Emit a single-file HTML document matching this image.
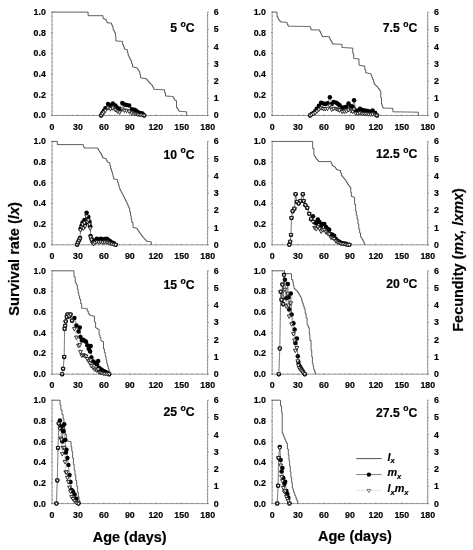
<!DOCTYPE html>
<html lang="en"><head><meta charset="utf-8"><title>Survival rate and fecundity</title>
<style>
html,body{margin:0;padding:0;background:#fff}
svg{display:block}
text{font-family:"Liberation Sans",sans-serif;font-weight:bold;fill:#000;stroke:#000;stroke-width:0.18px}
.tk text{font-size:8.8px}
.tl{font-size:12.2px}
.lg{font-size:10.8px;font-style:italic}
.ax{font-size:14.4px}
</style></head><body>
<svg width="473" height="550" viewBox="0 0 473 550">
<rect width="473" height="550" fill="#fff"/>
<g>
<path d="M52.00 12.10V115.50H207.65V12.10" fill="none" stroke="#858585" stroke-width="0.85"/>
<path d="M50.90 115.50h2.0M51.90 111.36h0.9M51.90 107.23h0.9M51.90 103.09h0.9M51.90 98.96h0.9M50.90 94.82h2.0M51.90 90.68h0.9M51.90 86.55h0.9M51.90 82.41h0.9M51.90 78.28h0.9M50.90 74.14h2.0M51.90 70.00h0.9M51.90 65.87h0.9M51.90 61.73h0.9M51.90 57.60h0.9M50.90 53.46h2.0M51.90 49.32h0.9M51.90 45.19h0.9M51.90 41.05h0.9M51.90 36.92h0.9M50.90 32.78h2.0M51.90 28.64h0.9M51.90 24.51h0.9M51.90 20.37h0.9M51.90 16.24h0.9M50.90 12.10h2.0M207.25 115.50h1.7M207.75 112.05h-0.9M207.75 108.61h-0.9M207.75 105.16h-0.9M207.75 101.71h-0.9M207.25 98.27h1.7M207.75 94.82h-0.9M207.75 91.37h-0.9M207.75 87.93h-0.9M207.75 84.48h-0.9M207.25 81.03h1.7M207.75 77.59h-0.9M207.75 74.14h-0.9M207.75 70.69h-0.9M207.75 67.25h-0.9M207.25 63.80h1.7M207.75 60.35h-0.9M207.75 56.91h-0.9M207.75 53.46h-0.9M207.75 50.01h-0.9M207.25 46.57h1.7M207.75 43.12h-0.9M207.75 39.67h-0.9M207.75 36.23h-0.9M207.75 32.78h-0.9M207.25 29.33h1.7M207.75 25.89h-0.9M207.75 22.44h-0.9M207.75 18.99h-0.9M207.75 15.55h-0.9M207.25 12.10h1.7M52.00 116.10v-1.8M57.19 115.60v-0.9M62.38 115.60v-0.9M67.56 115.60v-0.9M72.75 115.60v-0.9M77.94 116.10v-1.8M83.13 115.60v-0.9M88.32 115.60v-0.9M93.51 115.60v-0.9M98.70 115.60v-0.9M103.88 116.10v-1.8M109.07 115.60v-0.9M114.26 115.60v-0.9M119.45 115.60v-0.9M124.64 115.60v-0.9M129.82 116.10v-1.8M135.01 115.60v-0.9M140.20 115.60v-0.9M145.39 115.60v-0.9M150.58 115.60v-0.9M155.77 116.10v-1.8M160.95 115.60v-0.9M166.14 115.60v-0.9M171.33 115.60v-0.9M176.52 115.60v-0.9M181.71 116.10v-1.8M186.90 115.60v-0.9M192.09 115.60v-0.9M197.27 115.60v-0.9M202.46 115.60v-0.9M207.65 116.10v-1.8" fill="none" stroke="#666" stroke-width="0.6"/>
<g class="tk">
<text x="45.8" y="118.4" text-anchor="end">0.0</text>
<text x="45.8" y="97.7" text-anchor="end">0.2</text>
<text x="45.8" y="77.0" text-anchor="end">0.4</text>
<text x="45.8" y="56.4" text-anchor="end">0.6</text>
<text x="45.8" y="35.7" text-anchor="end">0.8</text>
<text x="45.8" y="15.0" text-anchor="end">1.0</text>
<text x="213.8" y="118.4">0</text>
<text x="213.8" y="101.2">1</text>
<text x="213.8" y="83.9">2</text>
<text x="213.8" y="66.7">3</text>
<text x="213.8" y="49.5">4</text>
<text x="213.8" y="32.2">5</text>
<text x="213.8" y="15.0">6</text>
<text x="52.0" y="129.7" text-anchor="middle">0</text>
<text x="77.9" y="129.7" text-anchor="middle">30</text>
<text x="103.9" y="129.7" text-anchor="middle">60</text>
<text x="129.8" y="129.7" text-anchor="middle">90</text>
<text x="155.8" y="129.7" text-anchor="middle">120</text>
<text x="181.7" y="129.7" text-anchor="middle">150</text>
<text x="207.7" y="129.7" text-anchor="middle">180</text>
</g>
<path d="M52.00 12.10H87.50V12.10H88.10V15.70H102.00V15.70H103.00V18.50H103.80V18.80H104.60V19.10H105.40V19.40H106.20V21.10H107.00V22.80H107.95V22.88H108.90V22.95H109.85V23.03H110.80V23.10H111.50V24.65H112.20V26.20H113.00V29.50H113.85V31.20H114.70V32.90H115.50V36.30H115.90V41.00H116.83V41.07H117.77V41.13H118.70V41.20H119.63V41.27H120.57V41.33H121.50V41.40H122.60V44.80H123.45V46.90H124.30V49.00H125.03V49.27H125.77V49.53H126.50V49.80H127.35V52.80H128.20V55.80H129.07V57.47H129.93V59.13H130.80V60.80H131.65V63.80H132.50V66.80H133.34V67.04H134.18V67.28H135.02V67.52H135.86V67.76H136.70V68.00H137.53V69.27H138.37V70.53H139.20V71.80H139.90V74.80H140.60V77.80H141.50V77.97H142.40V78.13H143.30V78.30H144.20V78.47H145.10V78.63H146.00V78.80H146.87V79.93H147.73V81.07H148.60V82.20H149.45V83.03H150.30V83.85H151.15V84.67H152.00V85.50H152.85V87.40H153.70V89.30H154.54V89.34H155.38V89.38H156.22V89.42H157.07V89.47H157.91V89.51H158.75V89.55H159.59V89.59H160.43V89.63H161.28V89.67H162.12V89.72H162.96V89.76H163.80V89.80H164.65V92.90H165.50V96.00H166.35V96.06H167.20V96.12H168.05V96.19H168.90V96.25H169.75V96.31H170.60V96.38H171.45V96.44H172.30V96.50H173.30V98.20H174.30V99.90H175.15V100.35H176.00V100.80H176.50V107.50H177.33V108.77H178.17V110.03H179.00V111.30H179.85V111.36H180.70V111.42H181.55V111.49H182.40V111.55H183.25V111.61H184.10V111.67H184.95V111.74H185.80V111.80H186.70V115.50" fill="none" stroke="#2a2a2a" stroke-width="0.75" stroke-linejoin="miter"/>
<polyline points="101.17,115.50 102.44,112.97 103.81,110.86 105.40,108.21 108.04,103.99 110.47,105.57 112.80,103.46 115.44,105.57 117.56,107.68 119.67,109.27 122.31,102.93 124.43,104.51 126.54,105.04 129.18,105.57 131.83,109.27 134.47,109.80 136.05,110.86 137.64,112.02 139.23,112.97 140.81,113.30 142.40,113.50 144.19,115.50" fill="none" stroke="#333" stroke-width="0.55"/>
<circle cx="101.17" cy="115.50" r="2.25" fill="#000"/>
<circle cx="102.44" cy="112.97" r="2.25" fill="#000"/>
<circle cx="103.81" cy="110.86" r="2.25" fill="#000"/>
<circle cx="105.40" cy="108.21" r="2.25" fill="#000"/>
<circle cx="108.04" cy="103.99" r="2.25" fill="#000"/>
<circle cx="110.47" cy="105.57" r="2.25" fill="#000"/>
<circle cx="112.80" cy="103.46" r="2.25" fill="#000"/>
<circle cx="115.44" cy="105.57" r="2.25" fill="#000"/>
<circle cx="117.56" cy="107.68" r="2.25" fill="#000"/>
<circle cx="119.67" cy="109.27" r="2.25" fill="#000"/>
<circle cx="122.31" cy="102.93" r="2.25" fill="#000"/>
<circle cx="124.43" cy="104.51" r="2.25" fill="#000"/>
<circle cx="126.54" cy="105.04" r="2.25" fill="#000"/>
<circle cx="129.18" cy="105.57" r="2.25" fill="#000"/>
<circle cx="131.83" cy="109.27" r="2.25" fill="#000"/>
<circle cx="134.47" cy="109.80" r="2.25" fill="#000"/>
<circle cx="136.05" cy="110.86" r="2.25" fill="#000"/>
<circle cx="137.64" cy="112.02" r="2.25" fill="#000"/>
<circle cx="139.23" cy="112.97" r="2.25" fill="#000"/>
<circle cx="140.81" cy="113.30" r="2.25" fill="#000"/>
<circle cx="142.40" cy="113.50" r="2.25" fill="#000"/>
<circle cx="144.19" cy="115.50" r="2.25" fill="#000"/>
<polyline points="101.17,115.50 102.44,113.76 103.81,112.37 105.40,110.62 108.04,108.07 110.47,109.11 112.80,108.22 115.44,110.01 117.56,111.45 119.67,112.28 122.31,109.23 124.43,110.42 126.54,110.73 129.18,111.50 131.83,113.28 134.47,113.59 136.05,113.96 137.64,114.38 139.23,114.73 140.81,114.92 142.40,114.98 144.19,115.50" fill="none" stroke="#555" stroke-width="0.55" stroke-dasharray="0.7 0.9"/>
<path d="M99.27 114.15h3.8l-1.9 3.4z" fill="#fff" stroke="#0a0a0a" stroke-width="0.8" stroke-linejoin="round"/>
<path d="M100.54 112.41h3.8l-1.9 3.4z" fill="#fff" stroke="#0a0a0a" stroke-width="0.8" stroke-linejoin="round"/>
<path d="M101.91 111.02h3.8l-1.9 3.4z" fill="#fff" stroke="#0a0a0a" stroke-width="0.8" stroke-linejoin="round"/>
<path d="M103.50 109.27h3.8l-1.9 3.4z" fill="#fff" stroke="#0a0a0a" stroke-width="0.8" stroke-linejoin="round"/>
<path d="M106.14 106.72h3.8l-1.9 3.4z" fill="#fff" stroke="#0a0a0a" stroke-width="0.8" stroke-linejoin="round"/>
<path d="M108.57 107.76h3.8l-1.9 3.4z" fill="#fff" stroke="#0a0a0a" stroke-width="0.8" stroke-linejoin="round"/>
<path d="M110.90 106.87h3.8l-1.9 3.4z" fill="#fff" stroke="#0a0a0a" stroke-width="0.8" stroke-linejoin="round"/>
<path d="M113.54 108.66h3.8l-1.9 3.4z" fill="#fff" stroke="#0a0a0a" stroke-width="0.8" stroke-linejoin="round"/>
<path d="M115.66 110.10h3.8l-1.9 3.4z" fill="#fff" stroke="#0a0a0a" stroke-width="0.8" stroke-linejoin="round"/>
<path d="M117.77 110.93h3.8l-1.9 3.4z" fill="#fff" stroke="#0a0a0a" stroke-width="0.8" stroke-linejoin="round"/>
<path d="M120.41 107.88h3.8l-1.9 3.4z" fill="#fff" stroke="#0a0a0a" stroke-width="0.8" stroke-linejoin="round"/>
<path d="M122.53 109.07h3.8l-1.9 3.4z" fill="#fff" stroke="#0a0a0a" stroke-width="0.8" stroke-linejoin="round"/>
<path d="M124.64 109.38h3.8l-1.9 3.4z" fill="#fff" stroke="#0a0a0a" stroke-width="0.8" stroke-linejoin="round"/>
<path d="M127.28 110.15h3.8l-1.9 3.4z" fill="#fff" stroke="#0a0a0a" stroke-width="0.8" stroke-linejoin="round"/>
<path d="M129.93 111.93h3.8l-1.9 3.4z" fill="#fff" stroke="#0a0a0a" stroke-width="0.8" stroke-linejoin="round"/>
<path d="M132.57 112.24h3.8l-1.9 3.4z" fill="#fff" stroke="#0a0a0a" stroke-width="0.8" stroke-linejoin="round"/>
<path d="M134.15 112.61h3.8l-1.9 3.4z" fill="#fff" stroke="#0a0a0a" stroke-width="0.8" stroke-linejoin="round"/>
<path d="M135.74 113.03h3.8l-1.9 3.4z" fill="#fff" stroke="#0a0a0a" stroke-width="0.8" stroke-linejoin="round"/>
<path d="M137.33 113.38h3.8l-1.9 3.4z" fill="#fff" stroke="#0a0a0a" stroke-width="0.8" stroke-linejoin="round"/>
<path d="M138.91 113.57h3.8l-1.9 3.4z" fill="#fff" stroke="#0a0a0a" stroke-width="0.8" stroke-linejoin="round"/>
<path d="M140.50 113.63h3.8l-1.9 3.4z" fill="#fff" stroke="#0a0a0a" stroke-width="0.8" stroke-linejoin="round"/>
<path d="M142.29 114.15h3.8l-1.9 3.4z" fill="#fff" stroke="#0a0a0a" stroke-width="0.8" stroke-linejoin="round"/>
<text class="tl" x="194.6" y="31.7" text-anchor="end">5 <tspan dy="-5.2" font-size="8.6">o</tspan><tspan dy="5.2">C</tspan></text>
</g>
<g>
<path d="M272.10 12.10V115.50H427.75V12.10" fill="none" stroke="#858585" stroke-width="0.85"/>
<path d="M271.00 115.50h2.0M272.00 111.36h0.9M272.00 107.23h0.9M272.00 103.09h0.9M272.00 98.96h0.9M271.00 94.82h2.0M272.00 90.68h0.9M272.00 86.55h0.9M272.00 82.41h0.9M272.00 78.28h0.9M271.00 74.14h2.0M272.00 70.00h0.9M272.00 65.87h0.9M272.00 61.73h0.9M272.00 57.60h0.9M271.00 53.46h2.0M272.00 49.32h0.9M272.00 45.19h0.9M272.00 41.05h0.9M272.00 36.92h0.9M271.00 32.78h2.0M272.00 28.64h0.9M272.00 24.51h0.9M272.00 20.37h0.9M272.00 16.24h0.9M271.00 12.10h2.0M427.35 115.50h1.7M427.85 112.05h-0.9M427.85 108.61h-0.9M427.85 105.16h-0.9M427.85 101.71h-0.9M427.35 98.27h1.7M427.85 94.82h-0.9M427.85 91.37h-0.9M427.85 87.93h-0.9M427.85 84.48h-0.9M427.35 81.03h1.7M427.85 77.59h-0.9M427.85 74.14h-0.9M427.85 70.69h-0.9M427.85 67.25h-0.9M427.35 63.80h1.7M427.85 60.35h-0.9M427.85 56.91h-0.9M427.85 53.46h-0.9M427.85 50.01h-0.9M427.35 46.57h1.7M427.85 43.12h-0.9M427.85 39.67h-0.9M427.85 36.23h-0.9M427.85 32.78h-0.9M427.35 29.33h1.7M427.85 25.89h-0.9M427.85 22.44h-0.9M427.85 18.99h-0.9M427.85 15.55h-0.9M427.35 12.10h1.7M272.10 116.10v-1.8M277.29 115.60v-0.9M282.48 115.60v-0.9M287.67 115.60v-0.9M292.85 115.60v-0.9M298.04 116.10v-1.8M303.23 115.60v-0.9M308.42 115.60v-0.9M313.61 115.60v-0.9M318.80 115.60v-0.9M323.98 116.10v-1.8M329.17 115.60v-0.9M334.36 115.60v-0.9M339.55 115.60v-0.9M344.74 115.60v-0.9M349.93 116.10v-1.8M355.11 115.60v-0.9M360.30 115.60v-0.9M365.49 115.60v-0.9M370.68 115.60v-0.9M375.87 116.10v-1.8M381.06 115.60v-0.9M386.24 115.60v-0.9M391.43 115.60v-0.9M396.62 115.60v-0.9M401.81 116.10v-1.8M407.00 115.60v-0.9M412.19 115.60v-0.9M417.37 115.60v-0.9M422.56 115.60v-0.9M427.75 116.10v-1.8" fill="none" stroke="#666" stroke-width="0.6"/>
<g class="tk">
<text x="265.9" y="118.4" text-anchor="end">0.0</text>
<text x="265.9" y="97.7" text-anchor="end">0.2</text>
<text x="265.9" y="77.0" text-anchor="end">0.4</text>
<text x="265.9" y="56.4" text-anchor="end">0.6</text>
<text x="265.9" y="35.7" text-anchor="end">0.8</text>
<text x="265.9" y="15.0" text-anchor="end">1.0</text>
<text x="433.9" y="118.4">0</text>
<text x="433.9" y="101.2">1</text>
<text x="433.9" y="83.9">2</text>
<text x="433.9" y="66.7">3</text>
<text x="433.9" y="49.5">4</text>
<text x="433.9" y="32.2">5</text>
<text x="433.9" y="15.0">6</text>
<text x="272.1" y="129.7" text-anchor="middle">0</text>
<text x="298.0" y="129.7" text-anchor="middle">30</text>
<text x="324.0" y="129.7" text-anchor="middle">60</text>
<text x="349.9" y="129.7" text-anchor="middle">90</text>
<text x="375.9" y="129.7" text-anchor="middle">120</text>
<text x="401.8" y="129.7" text-anchor="middle">150</text>
<text x="427.8" y="129.7" text-anchor="middle">180</text>
</g>
<path d="M272.10 12.10H276.10V12.10H277.00V17.00H278.20V19.40H279.20V20.65H280.20V21.90H281.07V21.97H281.94V22.04H282.81V22.11H283.69V22.19H284.56V22.26H285.43V22.33H286.30V22.40H287.15V24.30H288.00V26.20H288.86V26.21H289.72V26.22H290.58V26.24H291.44V26.25H292.30V26.26H293.16V26.27H294.02V26.28H294.88V26.30H295.74V26.31H296.60V26.32H297.46V26.33H298.32V26.34H299.18V26.36H300.04V26.37H300.90V26.38H301.76V26.39H302.62V26.40H303.48V26.42H304.34V26.43H305.20V26.44H306.06V26.45H306.92V26.46H307.78V26.48H308.64V26.49H309.50V26.50H310.30V28.20H311.10V29.90H318.80V30.00H319.65V31.50H320.50V33.00H321.30V34.80H322.10V36.60H328.60V36.80H329.45V38.50H330.30V40.20H331.30V42.05H332.30V43.90H333.15V43.94H334.00V43.98H334.85V44.02H335.70V44.06H336.55V44.10H337.40V44.14H338.25V44.18H339.10V44.22H339.95V44.26H340.80V44.30H341.90V47.50H342.80V47.55H343.70V47.61H344.60V47.66H345.50V47.72H346.40V47.77H347.30V47.83H348.20V47.88H349.10V47.94H350.00V47.99H350.90V48.05H351.80V48.10H352.75V53.30H353.70V58.50H354.58V58.58H355.46V58.66H356.34V58.74H357.22V58.82H358.10V58.90H359.00V65.20H359.80V65.35H360.60V65.50H361.40V65.65H362.20V65.80H363.00V65.95H363.80V66.10H364.75V69.45H365.70V72.80H366.64V73.00H367.58V73.20H368.52V73.40H369.46V73.60H370.40V73.80H371.17V75.70H371.93V77.60H372.70V79.50H373.45V81.85H374.20V84.20H375.17V85.17H376.13V86.13H377.10V87.10H378.07V88.37H379.03V89.63H380.00V90.90H380.75V97.55H381.50V104.20H382.15V106.10H382.80V108.00H383.70V108.04H384.60V108.08H385.50V108.12H386.40V108.16H387.30V108.20H388.20V108.24H389.10V108.28H390.00V108.32H390.90V108.36H391.80V108.40H392.90V111.80H393.75V111.81H394.60V111.83H395.46V111.84H396.31V111.86H397.16V111.87H398.01V111.88H398.86V111.90H399.71V111.91H400.57V111.92H401.42V111.94H402.27V111.95H403.12V111.97H403.97V111.98H404.82V111.99H405.68V112.01H406.53V112.02H407.38V112.03H408.23V112.05H409.08V112.06H409.93V112.08H410.79V112.09H411.64V112.10H412.49V112.12H413.34V112.13H414.19V112.14H415.04V112.16H415.90V112.17H416.75V112.19H417.60V112.20H418.40V115.50" fill="none" stroke="#2a2a2a" stroke-width="0.75" stroke-linejoin="miter"/>
<polyline points="310.08,115.50 311.77,114.10 313.46,112.92 315.15,111.23 316.84,108.69 318.87,105.64 321.07,102.77 323.27,103.61 325.30,103.95 327.50,103.27 329.87,97.18 331.73,103.95 333.76,101.92 336.30,102.77 337.99,103.95 339.69,105.30 342.23,107.84 344.26,107.34 346.46,106.66 348.49,103.61 351.02,106.15 352.72,106.66 354.07,100.23 355.76,110.38 357.79,110.72 359.99,108.69 362.19,110.04 364.22,110.38 366.25,110.72 368.45,111.23 370.65,111.73 372.68,110.38 375.22,112.92 376.91,115.50" fill="none" stroke="#333" stroke-width="0.55"/>
<circle cx="310.08" cy="115.50" r="2.25" fill="#000"/>
<circle cx="311.77" cy="114.10" r="2.25" fill="#000"/>
<circle cx="313.46" cy="112.92" r="2.25" fill="#000"/>
<circle cx="315.15" cy="111.23" r="2.25" fill="#000"/>
<circle cx="316.84" cy="108.69" r="2.25" fill="#000"/>
<circle cx="318.87" cy="105.64" r="2.25" fill="#000"/>
<circle cx="321.07" cy="102.77" r="2.25" fill="#000"/>
<circle cx="323.27" cy="103.61" r="2.25" fill="#000"/>
<circle cx="325.30" cy="103.95" r="2.25" fill="#000"/>
<circle cx="327.50" cy="103.27" r="2.25" fill="#000"/>
<circle cx="329.87" cy="97.18" r="2.25" fill="#000"/>
<circle cx="331.73" cy="103.95" r="2.25" fill="#000"/>
<circle cx="333.76" cy="101.92" r="2.25" fill="#000"/>
<circle cx="336.30" cy="102.77" r="2.25" fill="#000"/>
<circle cx="337.99" cy="103.95" r="2.25" fill="#000"/>
<circle cx="339.69" cy="105.30" r="2.25" fill="#000"/>
<circle cx="342.23" cy="107.84" r="2.25" fill="#000"/>
<circle cx="344.26" cy="107.34" r="2.25" fill="#000"/>
<circle cx="346.46" cy="106.66" r="2.25" fill="#000"/>
<circle cx="348.49" cy="103.61" r="2.25" fill="#000"/>
<circle cx="351.02" cy="106.15" r="2.25" fill="#000"/>
<circle cx="352.72" cy="106.66" r="2.25" fill="#000"/>
<circle cx="354.07" cy="100.23" r="2.25" fill="#000"/>
<circle cx="355.76" cy="110.38" r="2.25" fill="#000"/>
<circle cx="357.79" cy="110.72" r="2.25" fill="#000"/>
<circle cx="359.99" cy="108.69" r="2.25" fill="#000"/>
<circle cx="362.19" cy="110.04" r="2.25" fill="#000"/>
<circle cx="364.22" cy="110.38" r="2.25" fill="#000"/>
<circle cx="366.25" cy="110.72" r="2.25" fill="#000"/>
<circle cx="368.45" cy="111.23" r="2.25" fill="#000"/>
<circle cx="370.65" cy="111.73" r="2.25" fill="#000"/>
<circle cx="372.68" cy="110.38" r="2.25" fill="#000"/>
<circle cx="375.22" cy="112.92" r="2.25" fill="#000"/>
<circle cx="376.91" cy="115.50" r="2.25" fill="#000"/>
<polyline points="310.08,115.50 311.77,114.64 313.46,113.92 315.15,112.88 316.84,111.33 318.87,109.48 321.07,108.10 323.27,108.79 325.30,108.99 327.50,108.61 329.87,105.52 331.73,109.50 333.76,108.55 336.30,108.99 337.99,109.60 339.69,110.30 342.23,111.77 344.26,111.53 346.46,111.21 348.49,109.75 351.02,110.99 352.72,111.55 354.07,109.27 355.76,113.42 357.79,113.56 359.99,113.06 362.19,113.56 364.22,113.74 366.25,114.04 368.45,114.21 370.65,114.39 372.68,114.18 375.22,114.94 376.91,115.50" fill="none" stroke="#555" stroke-width="0.55" stroke-dasharray="0.7 0.9"/>
<path d="M308.18 114.15h3.8l-1.9 3.4z" fill="#fff" stroke="#0a0a0a" stroke-width="0.8" stroke-linejoin="round"/>
<path d="M309.87 113.29h3.8l-1.9 3.4z" fill="#fff" stroke="#0a0a0a" stroke-width="0.8" stroke-linejoin="round"/>
<path d="M311.56 112.57h3.8l-1.9 3.4z" fill="#fff" stroke="#0a0a0a" stroke-width="0.8" stroke-linejoin="round"/>
<path d="M313.25 111.53h3.8l-1.9 3.4z" fill="#fff" stroke="#0a0a0a" stroke-width="0.8" stroke-linejoin="round"/>
<path d="M314.94 109.98h3.8l-1.9 3.4z" fill="#fff" stroke="#0a0a0a" stroke-width="0.8" stroke-linejoin="round"/>
<path d="M316.97 108.13h3.8l-1.9 3.4z" fill="#fff" stroke="#0a0a0a" stroke-width="0.8" stroke-linejoin="round"/>
<path d="M319.17 106.75h3.8l-1.9 3.4z" fill="#fff" stroke="#0a0a0a" stroke-width="0.8" stroke-linejoin="round"/>
<path d="M321.37 107.44h3.8l-1.9 3.4z" fill="#fff" stroke="#0a0a0a" stroke-width="0.8" stroke-linejoin="round"/>
<path d="M323.40 107.64h3.8l-1.9 3.4z" fill="#fff" stroke="#0a0a0a" stroke-width="0.8" stroke-linejoin="round"/>
<path d="M325.60 107.26h3.8l-1.9 3.4z" fill="#fff" stroke="#0a0a0a" stroke-width="0.8" stroke-linejoin="round"/>
<path d="M327.97 104.17h3.8l-1.9 3.4z" fill="#fff" stroke="#0a0a0a" stroke-width="0.8" stroke-linejoin="round"/>
<path d="M329.83 108.15h3.8l-1.9 3.4z" fill="#fff" stroke="#0a0a0a" stroke-width="0.8" stroke-linejoin="round"/>
<path d="M331.86 107.20h3.8l-1.9 3.4z" fill="#fff" stroke="#0a0a0a" stroke-width="0.8" stroke-linejoin="round"/>
<path d="M334.40 107.64h3.8l-1.9 3.4z" fill="#fff" stroke="#0a0a0a" stroke-width="0.8" stroke-linejoin="round"/>
<path d="M336.09 108.25h3.8l-1.9 3.4z" fill="#fff" stroke="#0a0a0a" stroke-width="0.8" stroke-linejoin="round"/>
<path d="M337.79 108.95h3.8l-1.9 3.4z" fill="#fff" stroke="#0a0a0a" stroke-width="0.8" stroke-linejoin="round"/>
<path d="M340.33 110.42h3.8l-1.9 3.4z" fill="#fff" stroke="#0a0a0a" stroke-width="0.8" stroke-linejoin="round"/>
<path d="M342.36 110.18h3.8l-1.9 3.4z" fill="#fff" stroke="#0a0a0a" stroke-width="0.8" stroke-linejoin="round"/>
<path d="M344.56 109.86h3.8l-1.9 3.4z" fill="#fff" stroke="#0a0a0a" stroke-width="0.8" stroke-linejoin="round"/>
<path d="M346.59 108.40h3.8l-1.9 3.4z" fill="#fff" stroke="#0a0a0a" stroke-width="0.8" stroke-linejoin="round"/>
<path d="M349.12 109.64h3.8l-1.9 3.4z" fill="#fff" stroke="#0a0a0a" stroke-width="0.8" stroke-linejoin="round"/>
<path d="M350.82 110.20h3.8l-1.9 3.4z" fill="#fff" stroke="#0a0a0a" stroke-width="0.8" stroke-linejoin="round"/>
<path d="M352.17 107.92h3.8l-1.9 3.4z" fill="#fff" stroke="#0a0a0a" stroke-width="0.8" stroke-linejoin="round"/>
<path d="M353.86 112.07h3.8l-1.9 3.4z" fill="#fff" stroke="#0a0a0a" stroke-width="0.8" stroke-linejoin="round"/>
<path d="M355.89 112.21h3.8l-1.9 3.4z" fill="#fff" stroke="#0a0a0a" stroke-width="0.8" stroke-linejoin="round"/>
<path d="M358.09 111.71h3.8l-1.9 3.4z" fill="#fff" stroke="#0a0a0a" stroke-width="0.8" stroke-linejoin="round"/>
<path d="M360.29 112.21h3.8l-1.9 3.4z" fill="#fff" stroke="#0a0a0a" stroke-width="0.8" stroke-linejoin="round"/>
<path d="M362.32 112.39h3.8l-1.9 3.4z" fill="#fff" stroke="#0a0a0a" stroke-width="0.8" stroke-linejoin="round"/>
<path d="M364.35 112.69h3.8l-1.9 3.4z" fill="#fff" stroke="#0a0a0a" stroke-width="0.8" stroke-linejoin="round"/>
<path d="M366.55 112.86h3.8l-1.9 3.4z" fill="#fff" stroke="#0a0a0a" stroke-width="0.8" stroke-linejoin="round"/>
<path d="M368.75 113.04h3.8l-1.9 3.4z" fill="#fff" stroke="#0a0a0a" stroke-width="0.8" stroke-linejoin="round"/>
<path d="M370.78 112.83h3.8l-1.9 3.4z" fill="#fff" stroke="#0a0a0a" stroke-width="0.8" stroke-linejoin="round"/>
<path d="M373.32 113.59h3.8l-1.9 3.4z" fill="#fff" stroke="#0a0a0a" stroke-width="0.8" stroke-linejoin="round"/>
<path d="M375.01 114.15h3.8l-1.9 3.4z" fill="#fff" stroke="#0a0a0a" stroke-width="0.8" stroke-linejoin="round"/>
<text class="tl" x="417.2" y="32.0" text-anchor="end">7.5 <tspan dy="-5.2" font-size="8.6">o</tspan><tspan dy="5.2">C</tspan></text>
</g>
<g>
<path d="M52.00 141.45V244.85H207.65V141.45" fill="none" stroke="#858585" stroke-width="0.85"/>
<path d="M50.90 244.85h2.0M51.90 240.71h0.9M51.90 236.58h0.9M51.90 232.44h0.9M51.90 228.31h0.9M50.90 224.17h2.0M51.90 220.03h0.9M51.90 215.90h0.9M51.90 211.76h0.9M51.90 207.63h0.9M50.90 203.49h2.0M51.90 199.35h0.9M51.90 195.22h0.9M51.90 191.08h0.9M51.90 186.95h0.9M50.90 182.81h2.0M51.90 178.67h0.9M51.90 174.54h0.9M51.90 170.40h0.9M51.90 166.27h0.9M50.90 162.13h2.0M51.90 157.99h0.9M51.90 153.86h0.9M51.90 149.72h0.9M51.90 145.59h0.9M50.90 141.45h2.0M207.25 244.85h1.7M207.75 241.40h-0.9M207.75 237.96h-0.9M207.75 234.51h-0.9M207.75 231.06h-0.9M207.25 227.62h1.7M207.75 224.17h-0.9M207.75 220.72h-0.9M207.75 217.28h-0.9M207.75 213.83h-0.9M207.25 210.38h1.7M207.75 206.94h-0.9M207.75 203.49h-0.9M207.75 200.04h-0.9M207.75 196.60h-0.9M207.25 193.15h1.7M207.75 189.70h-0.9M207.75 186.26h-0.9M207.75 182.81h-0.9M207.75 179.36h-0.9M207.25 175.92h1.7M207.75 172.47h-0.9M207.75 169.02h-0.9M207.75 165.58h-0.9M207.75 162.13h-0.9M207.25 158.68h1.7M207.75 155.24h-0.9M207.75 151.79h-0.9M207.75 148.34h-0.9M207.75 144.90h-0.9M207.25 141.45h1.7M52.00 245.45v-1.8M57.19 244.95v-0.9M62.38 244.95v-0.9M67.56 244.95v-0.9M72.75 244.95v-0.9M77.94 245.45v-1.8M83.13 244.95v-0.9M88.32 244.95v-0.9M93.51 244.95v-0.9M98.70 244.95v-0.9M103.88 245.45v-1.8M109.07 244.95v-0.9M114.26 244.95v-0.9M119.45 244.95v-0.9M124.64 244.95v-0.9M129.82 245.45v-1.8M135.01 244.95v-0.9M140.20 244.95v-0.9M145.39 244.95v-0.9M150.58 244.95v-0.9M155.77 245.45v-1.8M160.95 244.95v-0.9M166.14 244.95v-0.9M171.33 244.95v-0.9M176.52 244.95v-0.9M181.71 245.45v-1.8M186.90 244.95v-0.9M192.09 244.95v-0.9M197.27 244.95v-0.9M202.46 244.95v-0.9M207.65 245.45v-1.8" fill="none" stroke="#666" stroke-width="0.6"/>
<g class="tk">
<text x="45.8" y="247.8" text-anchor="end">0.0</text>
<text x="45.8" y="227.1" text-anchor="end">0.2</text>
<text x="45.8" y="206.4" text-anchor="end">0.4</text>
<text x="45.8" y="185.7" text-anchor="end">0.6</text>
<text x="45.8" y="165.0" text-anchor="end">0.8</text>
<text x="45.8" y="144.3" text-anchor="end">1.0</text>
<text x="213.8" y="247.8">0</text>
<text x="213.8" y="230.5">1</text>
<text x="213.8" y="213.3">2</text>
<text x="213.8" y="196.0">3</text>
<text x="213.8" y="178.8">4</text>
<text x="213.8" y="161.6">5</text>
<text x="213.8" y="144.3">6</text>
<text x="52.0" y="259.1" text-anchor="middle">0</text>
<text x="77.9" y="259.1" text-anchor="middle">30</text>
<text x="103.9" y="259.1" text-anchor="middle">60</text>
<text x="129.8" y="259.1" text-anchor="middle">90</text>
<text x="155.8" y="259.1" text-anchor="middle">120</text>
<text x="181.7" y="259.1" text-anchor="middle">150</text>
<text x="207.7" y="259.1" text-anchor="middle">180</text>
</g>
<path d="M52.00 141.45H56.10V141.45H57.30V144.60H82.70V144.60H83.35V146.30H84.00V148.00H97.40V148.20H98.10V149.60H98.80V151.00H99.65V152.30H100.50V153.60H101.50V155.70H102.50V157.80H103.50V158.10H104.50V158.40H105.50V158.70H106.35V160.35H107.20V162.00H108.25V162.45H109.30V162.90H109.95V165.85H110.60V168.80H111.45V171.35H112.30V173.90H112.95V176.45H113.60V179.00H114.38V179.10H115.15V179.20H115.92V179.30H116.70V179.40H117.45V181.95H118.20V184.50H118.95V186.90H119.70V189.30H120.47V190.80H121.25V192.30H122.03V193.80H122.80V195.30H123.65V197.00H124.50V198.70H125.35V200.40H126.20V202.10H127.07V204.07H127.93V206.03H128.80V208.00H129.65V211.80H130.50V215.60H131.15V219.00H131.80V222.40H133.00V227.50H133.85V227.70H134.70V227.90H135.55V228.10H136.40V228.30H137.25V229.58H138.10V230.85H138.95V232.12H139.80V233.40H140.62V234.45H141.45V235.50H142.28V236.55H143.10V237.60H143.95V238.53H144.80V239.45H145.65V240.38H146.50V241.30H147.28V241.40H148.06V241.50H148.84V241.60H149.62V241.70H150.40V241.80H151.30V244.85" fill="none" stroke="#2a2a2a" stroke-width="0.75" stroke-linejoin="miter"/>
<polyline points="77.10,244.85 78.00,242.50 79.00,240.30 80.00,238.00 80.60,228.80 81.60,225.80 82.60,222.60 83.50,226.50 84.40,220.00 85.20,224.00 86.60,212.70 87.40,219.00 88.30,217.00 89.50,221.80 90.20,226.20 90.60,236.00 91.50,239.00 92.60,241.50 93.60,242.80 94.80,240.50 96.80,238.80 98.80,239.60 100.80,238.80 102.80,239.60 104.80,239.00 106.80,238.80 108.30,240.00 110.20,241.30 112.00,242.40 113.80,243.30 115.70,244.85" fill="none" stroke="#333" stroke-width="0.55"/>
<circle cx="77.10" cy="244.85" r="2.25" fill="#000"/>
<circle cx="78.00" cy="242.50" r="2.25" fill="#000"/>
<circle cx="79.00" cy="240.30" r="2.25" fill="#000"/>
<circle cx="80.00" cy="238.00" r="2.25" fill="#000"/>
<circle cx="80.60" cy="228.80" r="2.25" fill="#000"/>
<circle cx="81.60" cy="225.80" r="2.25" fill="#000"/>
<circle cx="82.60" cy="222.60" r="2.25" fill="#000"/>
<circle cx="83.50" cy="226.50" r="2.25" fill="#000"/>
<circle cx="84.40" cy="220.00" r="2.25" fill="#000"/>
<circle cx="85.20" cy="224.00" r="2.25" fill="#000"/>
<circle cx="86.60" cy="212.70" r="2.25" fill="#000"/>
<circle cx="87.40" cy="219.00" r="2.25" fill="#000"/>
<circle cx="88.30" cy="217.00" r="2.25" fill="#000"/>
<circle cx="89.50" cy="221.80" r="2.25" fill="#000"/>
<circle cx="90.20" cy="226.20" r="2.25" fill="#000"/>
<circle cx="90.60" cy="236.00" r="2.25" fill="#000"/>
<circle cx="91.50" cy="239.00" r="2.25" fill="#000"/>
<circle cx="92.60" cy="241.50" r="2.25" fill="#000"/>
<circle cx="93.60" cy="242.80" r="2.25" fill="#000"/>
<circle cx="94.80" cy="240.50" r="2.25" fill="#000"/>
<circle cx="96.80" cy="238.80" r="2.25" fill="#000"/>
<circle cx="98.80" cy="239.60" r="2.25" fill="#000"/>
<circle cx="100.80" cy="238.80" r="2.25" fill="#000"/>
<circle cx="102.80" cy="239.60" r="2.25" fill="#000"/>
<circle cx="104.80" cy="239.00" r="2.25" fill="#000"/>
<circle cx="106.80" cy="238.80" r="2.25" fill="#000"/>
<circle cx="108.30" cy="240.00" r="2.25" fill="#000"/>
<circle cx="110.20" cy="241.30" r="2.25" fill="#000"/>
<circle cx="112.00" cy="242.40" r="2.25" fill="#000"/>
<circle cx="113.80" cy="243.30" r="2.25" fill="#000"/>
<circle cx="115.70" cy="244.85" r="2.25" fill="#000"/>
<polyline points="77.10,244.85 78.00,242.69 79.00,240.66 80.00,238.54 80.60,230.07 81.60,227.30 82.60,224.36 83.50,228.30 84.40,222.74 85.20,226.30 86.60,216.25 87.40,221.86 88.30,220.08 89.50,224.36 90.20,228.27 90.60,236.98 91.50,239.65 92.60,243.13 93.60,243.80 94.80,242.61 96.80,241.74 98.80,242.23 100.80,241.93 102.80,242.42 104.80,242.16 106.80,242.16 108.30,242.72 110.20,243.38 112.00,243.91 113.80,244.31 115.70,244.85" fill="none" stroke="#555" stroke-width="0.55" stroke-dasharray="0.7 0.9"/>
<path d="M75.20 243.50h3.8l-1.9 3.4z" fill="#fff" stroke="#0a0a0a" stroke-width="0.8" stroke-linejoin="round"/>
<path d="M76.10 241.34h3.8l-1.9 3.4z" fill="#fff" stroke="#0a0a0a" stroke-width="0.8" stroke-linejoin="round"/>
<path d="M77.10 239.31h3.8l-1.9 3.4z" fill="#fff" stroke="#0a0a0a" stroke-width="0.8" stroke-linejoin="round"/>
<path d="M78.10 237.19h3.8l-1.9 3.4z" fill="#fff" stroke="#0a0a0a" stroke-width="0.8" stroke-linejoin="round"/>
<path d="M78.70 228.72h3.8l-1.9 3.4z" fill="#fff" stroke="#0a0a0a" stroke-width="0.8" stroke-linejoin="round"/>
<path d="M79.70 225.95h3.8l-1.9 3.4z" fill="#fff" stroke="#0a0a0a" stroke-width="0.8" stroke-linejoin="round"/>
<path d="M80.70 223.01h3.8l-1.9 3.4z" fill="#fff" stroke="#0a0a0a" stroke-width="0.8" stroke-linejoin="round"/>
<path d="M81.60 226.95h3.8l-1.9 3.4z" fill="#fff" stroke="#0a0a0a" stroke-width="0.8" stroke-linejoin="round"/>
<path d="M82.50 221.39h3.8l-1.9 3.4z" fill="#fff" stroke="#0a0a0a" stroke-width="0.8" stroke-linejoin="round"/>
<path d="M83.30 224.95h3.8l-1.9 3.4z" fill="#fff" stroke="#0a0a0a" stroke-width="0.8" stroke-linejoin="round"/>
<path d="M84.70 214.90h3.8l-1.9 3.4z" fill="#fff" stroke="#0a0a0a" stroke-width="0.8" stroke-linejoin="round"/>
<path d="M85.50 220.51h3.8l-1.9 3.4z" fill="#fff" stroke="#0a0a0a" stroke-width="0.8" stroke-linejoin="round"/>
<path d="M86.40 218.73h3.8l-1.9 3.4z" fill="#fff" stroke="#0a0a0a" stroke-width="0.8" stroke-linejoin="round"/>
<path d="M87.60 223.01h3.8l-1.9 3.4z" fill="#fff" stroke="#0a0a0a" stroke-width="0.8" stroke-linejoin="round"/>
<path d="M88.30 226.92h3.8l-1.9 3.4z" fill="#fff" stroke="#0a0a0a" stroke-width="0.8" stroke-linejoin="round"/>
<path d="M88.70 235.63h3.8l-1.9 3.4z" fill="#fff" stroke="#0a0a0a" stroke-width="0.8" stroke-linejoin="round"/>
<path d="M89.60 238.30h3.8l-1.9 3.4z" fill="#fff" stroke="#0a0a0a" stroke-width="0.8" stroke-linejoin="round"/>
<path d="M90.70 241.78h3.8l-1.9 3.4z" fill="#fff" stroke="#0a0a0a" stroke-width="0.8" stroke-linejoin="round"/>
<path d="M91.70 242.45h3.8l-1.9 3.4z" fill="#fff" stroke="#0a0a0a" stroke-width="0.8" stroke-linejoin="round"/>
<path d="M92.90 241.26h3.8l-1.9 3.4z" fill="#fff" stroke="#0a0a0a" stroke-width="0.8" stroke-linejoin="round"/>
<path d="M94.90 240.39h3.8l-1.9 3.4z" fill="#fff" stroke="#0a0a0a" stroke-width="0.8" stroke-linejoin="round"/>
<path d="M96.90 240.88h3.8l-1.9 3.4z" fill="#fff" stroke="#0a0a0a" stroke-width="0.8" stroke-linejoin="round"/>
<path d="M98.90 240.58h3.8l-1.9 3.4z" fill="#fff" stroke="#0a0a0a" stroke-width="0.8" stroke-linejoin="round"/>
<path d="M100.90 241.07h3.8l-1.9 3.4z" fill="#fff" stroke="#0a0a0a" stroke-width="0.8" stroke-linejoin="round"/>
<path d="M102.90 240.81h3.8l-1.9 3.4z" fill="#fff" stroke="#0a0a0a" stroke-width="0.8" stroke-linejoin="round"/>
<path d="M104.90 240.81h3.8l-1.9 3.4z" fill="#fff" stroke="#0a0a0a" stroke-width="0.8" stroke-linejoin="round"/>
<path d="M106.40 241.37h3.8l-1.9 3.4z" fill="#fff" stroke="#0a0a0a" stroke-width="0.8" stroke-linejoin="round"/>
<path d="M108.30 242.03h3.8l-1.9 3.4z" fill="#fff" stroke="#0a0a0a" stroke-width="0.8" stroke-linejoin="round"/>
<path d="M110.10 242.56h3.8l-1.9 3.4z" fill="#fff" stroke="#0a0a0a" stroke-width="0.8" stroke-linejoin="round"/>
<path d="M111.90 242.96h3.8l-1.9 3.4z" fill="#fff" stroke="#0a0a0a" stroke-width="0.8" stroke-linejoin="round"/>
<path d="M113.80 243.50h3.8l-1.9 3.4z" fill="#fff" stroke="#0a0a0a" stroke-width="0.8" stroke-linejoin="round"/>
<text class="tl" x="194.6" y="158.6" text-anchor="end">10 <tspan dy="-5.2" font-size="8.6">o</tspan><tspan dy="5.2">C</tspan></text>
</g>
<g>
<path d="M272.10 141.45V244.85H427.75V141.45" fill="none" stroke="#858585" stroke-width="0.85"/>
<path d="M271.00 244.85h2.0M272.00 240.71h0.9M272.00 236.58h0.9M272.00 232.44h0.9M272.00 228.31h0.9M271.00 224.17h2.0M272.00 220.03h0.9M272.00 215.90h0.9M272.00 211.76h0.9M272.00 207.63h0.9M271.00 203.49h2.0M272.00 199.35h0.9M272.00 195.22h0.9M272.00 191.08h0.9M272.00 186.95h0.9M271.00 182.81h2.0M272.00 178.67h0.9M272.00 174.54h0.9M272.00 170.40h0.9M272.00 166.27h0.9M271.00 162.13h2.0M272.00 157.99h0.9M272.00 153.86h0.9M272.00 149.72h0.9M272.00 145.59h0.9M271.00 141.45h2.0M427.35 244.85h1.7M427.85 241.40h-0.9M427.85 237.96h-0.9M427.85 234.51h-0.9M427.85 231.06h-0.9M427.35 227.62h1.7M427.85 224.17h-0.9M427.85 220.72h-0.9M427.85 217.28h-0.9M427.85 213.83h-0.9M427.35 210.38h1.7M427.85 206.94h-0.9M427.85 203.49h-0.9M427.85 200.04h-0.9M427.85 196.60h-0.9M427.35 193.15h1.7M427.85 189.70h-0.9M427.85 186.26h-0.9M427.85 182.81h-0.9M427.85 179.36h-0.9M427.35 175.92h1.7M427.85 172.47h-0.9M427.85 169.02h-0.9M427.85 165.58h-0.9M427.85 162.13h-0.9M427.35 158.68h1.7M427.85 155.24h-0.9M427.85 151.79h-0.9M427.85 148.34h-0.9M427.85 144.90h-0.9M427.35 141.45h1.7M272.10 245.45v-1.8M277.29 244.95v-0.9M282.48 244.95v-0.9M287.67 244.95v-0.9M292.85 244.95v-0.9M298.04 245.45v-1.8M303.23 244.95v-0.9M308.42 244.95v-0.9M313.61 244.95v-0.9M318.80 244.95v-0.9M323.98 245.45v-1.8M329.17 244.95v-0.9M334.36 244.95v-0.9M339.55 244.95v-0.9M344.74 244.95v-0.9M349.93 245.45v-1.8M355.11 244.95v-0.9M360.30 244.95v-0.9M365.49 244.95v-0.9M370.68 244.95v-0.9M375.87 245.45v-1.8M381.06 244.95v-0.9M386.24 244.95v-0.9M391.43 244.95v-0.9M396.62 244.95v-0.9M401.81 245.45v-1.8M407.00 244.95v-0.9M412.19 244.95v-0.9M417.37 244.95v-0.9M422.56 244.95v-0.9M427.75 245.45v-1.8" fill="none" stroke="#666" stroke-width="0.6"/>
<g class="tk">
<text x="265.9" y="247.8" text-anchor="end">0.0</text>
<text x="265.9" y="227.1" text-anchor="end">0.2</text>
<text x="265.9" y="206.4" text-anchor="end">0.4</text>
<text x="265.9" y="185.7" text-anchor="end">0.6</text>
<text x="265.9" y="165.0" text-anchor="end">0.8</text>
<text x="265.9" y="144.3" text-anchor="end">1.0</text>
<text x="433.9" y="247.8">0</text>
<text x="433.9" y="230.5">1</text>
<text x="433.9" y="213.3">2</text>
<text x="433.9" y="196.0">3</text>
<text x="433.9" y="178.8">4</text>
<text x="433.9" y="161.6">5</text>
<text x="433.9" y="144.3">6</text>
<text x="272.1" y="259.1" text-anchor="middle">0</text>
<text x="298.0" y="259.1" text-anchor="middle">30</text>
<text x="324.0" y="259.1" text-anchor="middle">60</text>
<text x="349.9" y="259.1" text-anchor="middle">90</text>
<text x="375.9" y="259.1" text-anchor="middle">120</text>
<text x="401.8" y="259.1" text-anchor="middle">150</text>
<text x="427.8" y="259.1" text-anchor="middle">180</text>
</g>
<path d="M272.10 141.45H311.50V141.45H312.70V148.50H313.90V155.30H314.63V156.43H315.37V157.57H316.10V158.70H316.93V159.67H317.77V160.63H318.60V161.60H330.50V161.70H331.30V163.60H332.10V165.50H332.97V166.03H333.83V166.57H334.70V167.10H335.55V168.40H336.40V169.70H337.25V169.90H338.10V170.10H338.95V170.30H339.80V170.50H340.65V173.05H341.50V175.60H342.32V176.65H343.15V177.70H343.98V178.75H344.80V179.80H345.73V181.27H346.67V182.73H347.60V184.20H348.37V185.20H349.13V186.20H349.90V187.20H350.80V192.50H351.40V196.50H352.20V196.77H353.00V197.03H353.80V197.30H354.60V204.40H355.60V211.00H356.35V215.00H357.10V219.00H357.95V224.05H358.80V229.10H359.65V232.95H360.50V236.80H361.33V238.20H362.17V239.60H363.00V241.00H363.85V242.93H364.70V244.85" fill="none" stroke="#2a2a2a" stroke-width="0.75" stroke-linejoin="miter"/>
<polyline points="289.31,244.85 290.15,241.68 291.00,234.92 291.51,217.99 292.69,211.23 294.38,208.69 295.57,194.31 296.92,201.92 298.61,203.61 300.30,201.07 302.84,194.31 303.69,201.07 305.38,205.30 307.28,208.05 309.19,213.87 311.09,219.19 312.99,216.30 314.61,222.33 316.23,223.23 317.85,219.57 319.47,221.96 321.09,225.90 322.71,224.02 324.33,223.92 325.97,226.91 327.60,228.78 329.24,229.84 330.87,234.16 332.51,234.78 334.15,235.76 335.84,239.02 337.53,240.63 339.22,241.68 340.91,242.72 342.61,243.18 344.30,243.38 345.99,243.82 347.68,244.85 349.37,244.85" fill="none" stroke="#333" stroke-width="0.55"/>
<circle cx="289.31" cy="244.85" r="2.25" fill="#000"/>
<circle cx="290.15" cy="241.68" r="2.25" fill="#000"/>
<circle cx="291.00" cy="234.92" r="2.25" fill="#000"/>
<circle cx="291.51" cy="217.99" r="2.25" fill="#000"/>
<circle cx="292.69" cy="211.23" r="2.25" fill="#000"/>
<circle cx="294.38" cy="208.69" r="2.25" fill="#000"/>
<circle cx="295.57" cy="194.31" r="2.25" fill="#000"/>
<circle cx="296.92" cy="201.92" r="2.25" fill="#000"/>
<circle cx="298.61" cy="203.61" r="2.25" fill="#000"/>
<circle cx="300.30" cy="201.07" r="2.25" fill="#000"/>
<circle cx="302.84" cy="194.31" r="2.25" fill="#000"/>
<circle cx="303.69" cy="201.07" r="2.25" fill="#000"/>
<circle cx="305.38" cy="205.30" r="2.25" fill="#000"/>
<circle cx="307.28" cy="208.05" r="2.25" fill="#000"/>
<circle cx="309.19" cy="213.87" r="2.25" fill="#000"/>
<circle cx="311.09" cy="219.19" r="2.25" fill="#000"/>
<circle cx="312.99" cy="216.30" r="2.25" fill="#000"/>
<circle cx="314.61" cy="222.33" r="2.25" fill="#000"/>
<circle cx="316.23" cy="223.23" r="2.25" fill="#000"/>
<circle cx="317.85" cy="219.57" r="2.25" fill="#000"/>
<circle cx="319.47" cy="221.96" r="2.25" fill="#000"/>
<circle cx="321.09" cy="225.90" r="2.25" fill="#000"/>
<circle cx="322.71" cy="224.02" r="2.25" fill="#000"/>
<circle cx="324.33" cy="223.92" r="2.25" fill="#000"/>
<circle cx="325.97" cy="226.91" r="2.25" fill="#000"/>
<circle cx="327.60" cy="228.78" r="2.25" fill="#000"/>
<circle cx="329.24" cy="229.84" r="2.25" fill="#000"/>
<circle cx="330.87" cy="234.16" r="2.25" fill="#000"/>
<circle cx="332.51" cy="234.78" r="2.25" fill="#000"/>
<circle cx="334.15" cy="235.76" r="2.25" fill="#000"/>
<circle cx="335.84" cy="239.02" r="2.25" fill="#000"/>
<circle cx="337.53" cy="240.63" r="2.25" fill="#000"/>
<circle cx="339.22" cy="241.68" r="2.25" fill="#000"/>
<circle cx="340.91" cy="242.72" r="2.25" fill="#000"/>
<circle cx="342.61" cy="243.18" r="2.25" fill="#000"/>
<circle cx="344.30" cy="243.38" r="2.25" fill="#000"/>
<circle cx="345.99" cy="243.82" r="2.25" fill="#000"/>
<circle cx="347.68" cy="244.85" r="2.25" fill="#000"/>
<circle cx="349.37" cy="244.85" r="2.25" fill="#000"/>
<polyline points="289.31,244.85 290.15,241.68 291.00,234.92 291.51,217.99 292.69,211.23 294.38,208.69 295.57,194.31 296.92,201.92 298.61,203.61 300.30,201.07 302.84,194.31 303.69,201.07 305.38,205.30 307.28,208.05 309.19,213.87 311.09,219.19 312.99,221.85 314.61,227.90 316.23,229.02 317.85,226.75 319.47,228.63 321.09,231.43 322.71,230.10 324.33,230.03 325.97,232.15 327.60,233.48 329.24,234.23 330.87,237.37 332.51,238.07 334.15,238.81 335.84,241.08 337.53,242.16 339.22,242.84 340.91,243.56 342.61,243.88 344.30,244.03 345.99,244.29 347.68,244.85 349.37,244.85" fill="none" stroke="#555" stroke-width="0.55" stroke-dasharray="0.7 0.9"/>
<path d="M287.41 243.50h3.8l-1.9 3.4z" fill="#fff" stroke="#0a0a0a" stroke-width="0.8" stroke-linejoin="round"/>
<path d="M288.25 240.33h3.8l-1.9 3.4z" fill="#fff" stroke="#0a0a0a" stroke-width="0.8" stroke-linejoin="round"/>
<path d="M289.10 233.57h3.8l-1.9 3.4z" fill="#fff" stroke="#0a0a0a" stroke-width="0.8" stroke-linejoin="round"/>
<path d="M289.61 216.64h3.8l-1.9 3.4z" fill="#fff" stroke="#0a0a0a" stroke-width="0.8" stroke-linejoin="round"/>
<path d="M290.79 209.88h3.8l-1.9 3.4z" fill="#fff" stroke="#0a0a0a" stroke-width="0.8" stroke-linejoin="round"/>
<path d="M292.48 207.34h3.8l-1.9 3.4z" fill="#fff" stroke="#0a0a0a" stroke-width="0.8" stroke-linejoin="round"/>
<path d="M293.67 192.96h3.8l-1.9 3.4z" fill="#fff" stroke="#0a0a0a" stroke-width="0.8" stroke-linejoin="round"/>
<path d="M295.02 200.57h3.8l-1.9 3.4z" fill="#fff" stroke="#0a0a0a" stroke-width="0.8" stroke-linejoin="round"/>
<path d="M296.71 202.26h3.8l-1.9 3.4z" fill="#fff" stroke="#0a0a0a" stroke-width="0.8" stroke-linejoin="round"/>
<path d="M298.40 199.72h3.8l-1.9 3.4z" fill="#fff" stroke="#0a0a0a" stroke-width="0.8" stroke-linejoin="round"/>
<path d="M300.94 192.96h3.8l-1.9 3.4z" fill="#fff" stroke="#0a0a0a" stroke-width="0.8" stroke-linejoin="round"/>
<path d="M301.79 199.72h3.8l-1.9 3.4z" fill="#fff" stroke="#0a0a0a" stroke-width="0.8" stroke-linejoin="round"/>
<path d="M303.48 203.95h3.8l-1.9 3.4z" fill="#fff" stroke="#0a0a0a" stroke-width="0.8" stroke-linejoin="round"/>
<path d="M305.38 206.70h3.8l-1.9 3.4z" fill="#fff" stroke="#0a0a0a" stroke-width="0.8" stroke-linejoin="round"/>
<path d="M307.29 212.52h3.8l-1.9 3.4z" fill="#fff" stroke="#0a0a0a" stroke-width="0.8" stroke-linejoin="round"/>
<path d="M309.19 217.84h3.8l-1.9 3.4z" fill="#fff" stroke="#0a0a0a" stroke-width="0.8" stroke-linejoin="round"/>
<path d="M311.09 220.50h3.8l-1.9 3.4z" fill="#fff" stroke="#0a0a0a" stroke-width="0.8" stroke-linejoin="round"/>
<path d="M312.71 226.55h3.8l-1.9 3.4z" fill="#fff" stroke="#0a0a0a" stroke-width="0.8" stroke-linejoin="round"/>
<path d="M314.33 227.67h3.8l-1.9 3.4z" fill="#fff" stroke="#0a0a0a" stroke-width="0.8" stroke-linejoin="round"/>
<path d="M315.95 225.40h3.8l-1.9 3.4z" fill="#fff" stroke="#0a0a0a" stroke-width="0.8" stroke-linejoin="round"/>
<path d="M317.57 227.28h3.8l-1.9 3.4z" fill="#fff" stroke="#0a0a0a" stroke-width="0.8" stroke-linejoin="round"/>
<path d="M319.19 230.08h3.8l-1.9 3.4z" fill="#fff" stroke="#0a0a0a" stroke-width="0.8" stroke-linejoin="round"/>
<path d="M320.81 228.75h3.8l-1.9 3.4z" fill="#fff" stroke="#0a0a0a" stroke-width="0.8" stroke-linejoin="round"/>
<path d="M322.43 228.68h3.8l-1.9 3.4z" fill="#fff" stroke="#0a0a0a" stroke-width="0.8" stroke-linejoin="round"/>
<path d="M324.07 230.80h3.8l-1.9 3.4z" fill="#fff" stroke="#0a0a0a" stroke-width="0.8" stroke-linejoin="round"/>
<path d="M325.70 232.13h3.8l-1.9 3.4z" fill="#fff" stroke="#0a0a0a" stroke-width="0.8" stroke-linejoin="round"/>
<path d="M327.34 232.88h3.8l-1.9 3.4z" fill="#fff" stroke="#0a0a0a" stroke-width="0.8" stroke-linejoin="round"/>
<path d="M328.97 236.02h3.8l-1.9 3.4z" fill="#fff" stroke="#0a0a0a" stroke-width="0.8" stroke-linejoin="round"/>
<path d="M330.61 236.72h3.8l-1.9 3.4z" fill="#fff" stroke="#0a0a0a" stroke-width="0.8" stroke-linejoin="round"/>
<path d="M332.25 237.46h3.8l-1.9 3.4z" fill="#fff" stroke="#0a0a0a" stroke-width="0.8" stroke-linejoin="round"/>
<path d="M333.94 239.73h3.8l-1.9 3.4z" fill="#fff" stroke="#0a0a0a" stroke-width="0.8" stroke-linejoin="round"/>
<path d="M335.63 240.81h3.8l-1.9 3.4z" fill="#fff" stroke="#0a0a0a" stroke-width="0.8" stroke-linejoin="round"/>
<path d="M337.32 241.49h3.8l-1.9 3.4z" fill="#fff" stroke="#0a0a0a" stroke-width="0.8" stroke-linejoin="round"/>
<path d="M339.01 242.21h3.8l-1.9 3.4z" fill="#fff" stroke="#0a0a0a" stroke-width="0.8" stroke-linejoin="round"/>
<path d="M340.71 242.53h3.8l-1.9 3.4z" fill="#fff" stroke="#0a0a0a" stroke-width="0.8" stroke-linejoin="round"/>
<path d="M342.40 242.68h3.8l-1.9 3.4z" fill="#fff" stroke="#0a0a0a" stroke-width="0.8" stroke-linejoin="round"/>
<path d="M344.09 242.94h3.8l-1.9 3.4z" fill="#fff" stroke="#0a0a0a" stroke-width="0.8" stroke-linejoin="round"/>
<path d="M345.78 243.50h3.8l-1.9 3.4z" fill="#fff" stroke="#0a0a0a" stroke-width="0.8" stroke-linejoin="round"/>
<path d="M347.47 243.50h3.8l-1.9 3.4z" fill="#fff" stroke="#0a0a0a" stroke-width="0.8" stroke-linejoin="round"/>
<text class="tl" x="417.2" y="158.0" text-anchor="end">12.5 <tspan dy="-5.2" font-size="8.6">o</tspan><tspan dy="5.2">C</tspan></text>
</g>
<g>
<path d="M52.00 270.80V374.20H207.65V270.80" fill="none" stroke="#858585" stroke-width="0.85"/>
<path d="M50.90 374.20h2.0M51.90 370.06h0.9M51.90 365.93h0.9M51.90 361.79h0.9M51.90 357.66h0.9M50.90 353.52h2.0M51.90 349.38h0.9M51.90 345.25h0.9M51.90 341.11h0.9M51.90 336.98h0.9M50.90 332.84h2.0M51.90 328.70h0.9M51.90 324.57h0.9M51.90 320.43h0.9M51.90 316.30h0.9M50.90 312.16h2.0M51.90 308.02h0.9M51.90 303.89h0.9M51.90 299.75h0.9M51.90 295.62h0.9M50.90 291.48h2.0M51.90 287.34h0.9M51.90 283.21h0.9M51.90 279.07h0.9M51.90 274.94h0.9M50.90 270.80h2.0M207.25 374.20h1.7M207.75 370.75h-0.9M207.75 367.31h-0.9M207.75 363.86h-0.9M207.75 360.41h-0.9M207.25 356.97h1.7M207.75 353.52h-0.9M207.75 350.07h-0.9M207.75 346.63h-0.9M207.75 343.18h-0.9M207.25 339.73h1.7M207.75 336.29h-0.9M207.75 332.84h-0.9M207.75 329.39h-0.9M207.75 325.95h-0.9M207.25 322.50h1.7M207.75 319.05h-0.9M207.75 315.61h-0.9M207.75 312.16h-0.9M207.75 308.71h-0.9M207.25 305.27h1.7M207.75 301.82h-0.9M207.75 298.37h-0.9M207.75 294.93h-0.9M207.75 291.48h-0.9M207.25 288.03h1.7M207.75 284.59h-0.9M207.75 281.14h-0.9M207.75 277.69h-0.9M207.75 274.25h-0.9M207.25 270.80h1.7M52.00 374.80v-1.8M57.19 374.30v-0.9M62.38 374.30v-0.9M67.56 374.30v-0.9M72.75 374.30v-0.9M77.94 374.80v-1.8M83.13 374.30v-0.9M88.32 374.30v-0.9M93.51 374.30v-0.9M98.70 374.30v-0.9M103.88 374.80v-1.8M109.07 374.30v-0.9M114.26 374.30v-0.9M119.45 374.30v-0.9M124.64 374.30v-0.9M129.82 374.80v-1.8M135.01 374.30v-0.9M140.20 374.30v-0.9M145.39 374.30v-0.9M150.58 374.30v-0.9M155.77 374.80v-1.8M160.95 374.30v-0.9M166.14 374.30v-0.9M171.33 374.30v-0.9M176.52 374.30v-0.9M181.71 374.80v-1.8M186.90 374.30v-0.9M192.09 374.30v-0.9M197.27 374.30v-0.9M202.46 374.30v-0.9M207.65 374.80v-1.8" fill="none" stroke="#666" stroke-width="0.6"/>
<g class="tk">
<text x="45.8" y="377.1" text-anchor="end">0.0</text>
<text x="45.8" y="356.4" text-anchor="end">0.2</text>
<text x="45.8" y="335.7" text-anchor="end">0.4</text>
<text x="45.8" y="315.1" text-anchor="end">0.6</text>
<text x="45.8" y="294.4" text-anchor="end">0.8</text>
<text x="45.8" y="273.7" text-anchor="end">1.0</text>
<text x="213.8" y="377.1">0</text>
<text x="213.8" y="359.9">1</text>
<text x="213.8" y="342.6">2</text>
<text x="213.8" y="325.4">3</text>
<text x="213.8" y="308.2">4</text>
<text x="213.8" y="290.9">5</text>
<text x="213.8" y="273.7">6</text>
<text x="52.0" y="388.4" text-anchor="middle">0</text>
<text x="77.9" y="388.4" text-anchor="middle">30</text>
<text x="103.9" y="388.4" text-anchor="middle">60</text>
<text x="129.8" y="388.4" text-anchor="middle">90</text>
<text x="155.8" y="388.4" text-anchor="middle">120</text>
<text x="181.7" y="388.4" text-anchor="middle">150</text>
<text x="207.7" y="388.4" text-anchor="middle">180</text>
</g>
<path d="M52.00 270.80H72.90V270.80H74.00V276.80H75.20V282.00H75.90V283.50H76.60V285.00H77.35V289.05H78.10V293.10H78.85V296.05H79.60V299.00H80.65V303.60H81.70V308.20H82.60V308.30H83.50V308.40H84.40V308.50H85.30V308.60H86.20V308.70H87.25V311.10H88.30V313.50H89.15V314.40H90.00V315.30H90.80V315.50H91.60V315.70H92.40V315.90H93.20V316.10H94.40V322.00H95.60V327.80H96.40V328.30H97.20V328.80H98.00V329.30H99.10V334.80H100.00V337.75H100.90V340.70H101.65V341.05H102.40V341.40H103.50V348.80H104.40V352.50H105.30V356.20H106.05V359.90H106.80V363.60H107.53V366.07H108.27V368.53H109.00V371.00H109.75V372.60H110.50V374.20" fill="none" stroke="#2a2a2a" stroke-width="0.75" stroke-linejoin="miter"/>
<polyline points="62.10,374.20 63.10,368.80 64.20,357.00 64.60,328.90 65.10,325.90 65.70,321.50 66.80,317.00 67.60,314.50 69.10,316.30 70.50,314.50 72.00,320.70 74.40,318.00 76.40,325.50 78.50,331.60 79.80,327.50 80.50,337.10 81.85,340.60 83.20,339.80 84.60,340.80 86.00,341.80 87.30,345.20 88.70,348.70 90.10,351.40 90.70,345.90 91.40,357.50 93.50,361.60 95.20,362.95 96.90,364.30 98.20,360.90 98.90,367.80 100.30,369.12 101.70,369.80 103.40,371.00 105.10,371.80 107.15,372.70 109.20,374.20" fill="none" stroke="#333" stroke-width="0.55"/>
<circle cx="62.10" cy="374.20" r="2.25" fill="#000"/>
<circle cx="63.10" cy="368.80" r="2.25" fill="#000"/>
<circle cx="64.20" cy="357.00" r="2.25" fill="#000"/>
<circle cx="64.60" cy="328.90" r="2.25" fill="#000"/>
<circle cx="65.10" cy="325.90" r="2.25" fill="#000"/>
<circle cx="65.70" cy="321.50" r="2.25" fill="#000"/>
<circle cx="66.80" cy="317.00" r="2.25" fill="#000"/>
<circle cx="67.60" cy="314.50" r="2.25" fill="#000"/>
<circle cx="69.10" cy="316.30" r="2.25" fill="#000"/>
<circle cx="70.50" cy="314.50" r="2.25" fill="#000"/>
<circle cx="72.00" cy="320.70" r="2.25" fill="#000"/>
<circle cx="74.40" cy="318.00" r="2.25" fill="#000"/>
<circle cx="76.40" cy="325.50" r="2.25" fill="#000"/>
<circle cx="78.50" cy="331.60" r="2.25" fill="#000"/>
<circle cx="79.80" cy="327.50" r="2.25" fill="#000"/>
<circle cx="80.50" cy="337.10" r="2.25" fill="#000"/>
<circle cx="81.85" cy="340.60" r="2.25" fill="#000"/>
<circle cx="83.20" cy="339.80" r="2.25" fill="#000"/>
<circle cx="84.60" cy="340.80" r="2.25" fill="#000"/>
<circle cx="86.00" cy="341.80" r="2.25" fill="#000"/>
<circle cx="87.30" cy="345.20" r="2.25" fill="#000"/>
<circle cx="88.70" cy="348.70" r="2.25" fill="#000"/>
<circle cx="90.10" cy="351.40" r="2.25" fill="#000"/>
<circle cx="90.70" cy="345.90" r="2.25" fill="#000"/>
<circle cx="91.40" cy="357.50" r="2.25" fill="#000"/>
<circle cx="93.50" cy="361.60" r="2.25" fill="#000"/>
<circle cx="95.20" cy="362.95" r="2.25" fill="#000"/>
<circle cx="96.90" cy="364.30" r="2.25" fill="#000"/>
<circle cx="98.20" cy="360.90" r="2.25" fill="#000"/>
<circle cx="98.90" cy="367.80" r="2.25" fill="#000"/>
<circle cx="100.30" cy="369.12" r="2.25" fill="#000"/>
<circle cx="101.70" cy="369.80" r="2.25" fill="#000"/>
<circle cx="103.40" cy="371.00" r="2.25" fill="#000"/>
<circle cx="105.10" cy="371.80" r="2.25" fill="#000"/>
<circle cx="107.15" cy="372.70" r="2.25" fill="#000"/>
<circle cx="109.20" cy="374.20" r="2.25" fill="#000"/>
<polyline points="62.10,374.20 63.10,368.80 64.20,357.00 64.60,328.90 65.10,325.90 65.70,321.50 66.80,317.00 67.60,314.50 69.10,316.30 70.50,314.50 72.00,320.70 74.40,328.96 76.40,337.47 78.50,345.69 79.80,345.00 80.50,351.96 81.85,355.54 83.20,355.15 84.60,355.74 86.00,356.34 87.30,358.83 88.70,361.27 90.10,362.91 90.70,360.22 91.40,365.97 93.50,368.20 95.20,369.62 96.90,370.40 98.20,369.29 98.90,372.02 100.30,372.69 101.70,372.97 103.40,373.50 105.10,373.82 107.15,374.08 109.20,374.20" fill="none" stroke="#555" stroke-width="0.55" stroke-dasharray="0.7 0.9"/>
<path d="M60.20 372.85h3.8l-1.9 3.4z" fill="#fff" stroke="#0a0a0a" stroke-width="0.8" stroke-linejoin="round"/>
<path d="M61.20 367.45h3.8l-1.9 3.4z" fill="#fff" stroke="#0a0a0a" stroke-width="0.8" stroke-linejoin="round"/>
<path d="M62.30 355.65h3.8l-1.9 3.4z" fill="#fff" stroke="#0a0a0a" stroke-width="0.8" stroke-linejoin="round"/>
<path d="M62.70 327.55h3.8l-1.9 3.4z" fill="#fff" stroke="#0a0a0a" stroke-width="0.8" stroke-linejoin="round"/>
<path d="M63.20 324.55h3.8l-1.9 3.4z" fill="#fff" stroke="#0a0a0a" stroke-width="0.8" stroke-linejoin="round"/>
<path d="M63.80 320.15h3.8l-1.9 3.4z" fill="#fff" stroke="#0a0a0a" stroke-width="0.8" stroke-linejoin="round"/>
<path d="M64.90 315.65h3.8l-1.9 3.4z" fill="#fff" stroke="#0a0a0a" stroke-width="0.8" stroke-linejoin="round"/>
<path d="M65.70 313.15h3.8l-1.9 3.4z" fill="#fff" stroke="#0a0a0a" stroke-width="0.8" stroke-linejoin="round"/>
<path d="M67.20 314.95h3.8l-1.9 3.4z" fill="#fff" stroke="#0a0a0a" stroke-width="0.8" stroke-linejoin="round"/>
<path d="M68.60 313.15h3.8l-1.9 3.4z" fill="#fff" stroke="#0a0a0a" stroke-width="0.8" stroke-linejoin="round"/>
<path d="M70.10 319.35h3.8l-1.9 3.4z" fill="#fff" stroke="#0a0a0a" stroke-width="0.8" stroke-linejoin="round"/>
<path d="M72.50 327.61h3.8l-1.9 3.4z" fill="#fff" stroke="#0a0a0a" stroke-width="0.8" stroke-linejoin="round"/>
<path d="M74.50 336.12h3.8l-1.9 3.4z" fill="#fff" stroke="#0a0a0a" stroke-width="0.8" stroke-linejoin="round"/>
<path d="M76.60 344.34h3.8l-1.9 3.4z" fill="#fff" stroke="#0a0a0a" stroke-width="0.8" stroke-linejoin="round"/>
<path d="M77.90 343.65h3.8l-1.9 3.4z" fill="#fff" stroke="#0a0a0a" stroke-width="0.8" stroke-linejoin="round"/>
<path d="M78.60 350.61h3.8l-1.9 3.4z" fill="#fff" stroke="#0a0a0a" stroke-width="0.8" stroke-linejoin="round"/>
<path d="M79.95 354.19h3.8l-1.9 3.4z" fill="#fff" stroke="#0a0a0a" stroke-width="0.8" stroke-linejoin="round"/>
<path d="M81.30 353.80h3.8l-1.9 3.4z" fill="#fff" stroke="#0a0a0a" stroke-width="0.8" stroke-linejoin="round"/>
<path d="M82.70 354.39h3.8l-1.9 3.4z" fill="#fff" stroke="#0a0a0a" stroke-width="0.8" stroke-linejoin="round"/>
<path d="M84.10 354.99h3.8l-1.9 3.4z" fill="#fff" stroke="#0a0a0a" stroke-width="0.8" stroke-linejoin="round"/>
<path d="M85.40 357.48h3.8l-1.9 3.4z" fill="#fff" stroke="#0a0a0a" stroke-width="0.8" stroke-linejoin="round"/>
<path d="M86.80 359.92h3.8l-1.9 3.4z" fill="#fff" stroke="#0a0a0a" stroke-width="0.8" stroke-linejoin="round"/>
<path d="M88.20 361.56h3.8l-1.9 3.4z" fill="#fff" stroke="#0a0a0a" stroke-width="0.8" stroke-linejoin="round"/>
<path d="M88.80 358.87h3.8l-1.9 3.4z" fill="#fff" stroke="#0a0a0a" stroke-width="0.8" stroke-linejoin="round"/>
<path d="M89.50 364.62h3.8l-1.9 3.4z" fill="#fff" stroke="#0a0a0a" stroke-width="0.8" stroke-linejoin="round"/>
<path d="M91.60 366.85h3.8l-1.9 3.4z" fill="#fff" stroke="#0a0a0a" stroke-width="0.8" stroke-linejoin="round"/>
<path d="M93.30 368.27h3.8l-1.9 3.4z" fill="#fff" stroke="#0a0a0a" stroke-width="0.8" stroke-linejoin="round"/>
<path d="M95.00 369.05h3.8l-1.9 3.4z" fill="#fff" stroke="#0a0a0a" stroke-width="0.8" stroke-linejoin="round"/>
<path d="M96.30 367.94h3.8l-1.9 3.4z" fill="#fff" stroke="#0a0a0a" stroke-width="0.8" stroke-linejoin="round"/>
<path d="M97.00 370.67h3.8l-1.9 3.4z" fill="#fff" stroke="#0a0a0a" stroke-width="0.8" stroke-linejoin="round"/>
<path d="M98.40 371.34h3.8l-1.9 3.4z" fill="#fff" stroke="#0a0a0a" stroke-width="0.8" stroke-linejoin="round"/>
<path d="M99.80 371.62h3.8l-1.9 3.4z" fill="#fff" stroke="#0a0a0a" stroke-width="0.8" stroke-linejoin="round"/>
<path d="M101.50 372.15h3.8l-1.9 3.4z" fill="#fff" stroke="#0a0a0a" stroke-width="0.8" stroke-linejoin="round"/>
<path d="M103.20 372.47h3.8l-1.9 3.4z" fill="#fff" stroke="#0a0a0a" stroke-width="0.8" stroke-linejoin="round"/>
<path d="M105.25 372.73h3.8l-1.9 3.4z" fill="#fff" stroke="#0a0a0a" stroke-width="0.8" stroke-linejoin="round"/>
<path d="M107.30 372.85h3.8l-1.9 3.4z" fill="#fff" stroke="#0a0a0a" stroke-width="0.8" stroke-linejoin="round"/>
<text class="tl" x="194.6" y="289.4" text-anchor="end">15 <tspan dy="-5.2" font-size="8.6">o</tspan><tspan dy="5.2">C</tspan></text>
</g>
<g>
<path d="M272.10 270.80V374.20H427.75V270.80" fill="none" stroke="#858585" stroke-width="0.85"/>
<path d="M271.00 374.20h2.0M272.00 370.06h0.9M272.00 365.93h0.9M272.00 361.79h0.9M272.00 357.66h0.9M271.00 353.52h2.0M272.00 349.38h0.9M272.00 345.25h0.9M272.00 341.11h0.9M272.00 336.98h0.9M271.00 332.84h2.0M272.00 328.70h0.9M272.00 324.57h0.9M272.00 320.43h0.9M272.00 316.30h0.9M271.00 312.16h2.0M272.00 308.02h0.9M272.00 303.89h0.9M272.00 299.75h0.9M272.00 295.62h0.9M271.00 291.48h2.0M272.00 287.34h0.9M272.00 283.21h0.9M272.00 279.07h0.9M272.00 274.94h0.9M271.00 270.80h2.0M427.35 374.20h1.7M427.85 370.75h-0.9M427.85 367.31h-0.9M427.85 363.86h-0.9M427.85 360.41h-0.9M427.35 356.97h1.7M427.85 353.52h-0.9M427.85 350.07h-0.9M427.85 346.63h-0.9M427.85 343.18h-0.9M427.35 339.73h1.7M427.85 336.29h-0.9M427.85 332.84h-0.9M427.85 329.39h-0.9M427.85 325.95h-0.9M427.35 322.50h1.7M427.85 319.05h-0.9M427.85 315.61h-0.9M427.85 312.16h-0.9M427.85 308.71h-0.9M427.35 305.27h1.7M427.85 301.82h-0.9M427.85 298.37h-0.9M427.85 294.93h-0.9M427.85 291.48h-0.9M427.35 288.03h1.7M427.85 284.59h-0.9M427.85 281.14h-0.9M427.85 277.69h-0.9M427.85 274.25h-0.9M427.35 270.80h1.7M272.10 374.80v-1.8M277.29 374.30v-0.9M282.48 374.30v-0.9M287.67 374.30v-0.9M292.85 374.30v-0.9M298.04 374.80v-1.8M303.23 374.30v-0.9M308.42 374.30v-0.9M313.61 374.30v-0.9M318.80 374.30v-0.9M323.98 374.80v-1.8M329.17 374.30v-0.9M334.36 374.30v-0.9M339.55 374.30v-0.9M344.74 374.30v-0.9M349.93 374.80v-1.8M355.11 374.30v-0.9M360.30 374.30v-0.9M365.49 374.30v-0.9M370.68 374.30v-0.9M375.87 374.80v-1.8M381.06 374.30v-0.9M386.24 374.30v-0.9M391.43 374.30v-0.9M396.62 374.30v-0.9M401.81 374.80v-1.8M407.00 374.30v-0.9M412.19 374.30v-0.9M417.37 374.30v-0.9M422.56 374.30v-0.9M427.75 374.80v-1.8" fill="none" stroke="#666" stroke-width="0.6"/>
<g class="tk">
<text x="265.9" y="377.1" text-anchor="end">0.0</text>
<text x="265.9" y="356.4" text-anchor="end">0.2</text>
<text x="265.9" y="335.7" text-anchor="end">0.4</text>
<text x="265.9" y="315.1" text-anchor="end">0.6</text>
<text x="265.9" y="294.4" text-anchor="end">0.8</text>
<text x="265.9" y="273.7" text-anchor="end">1.0</text>
<text x="433.9" y="377.1">0</text>
<text x="433.9" y="359.9">1</text>
<text x="433.9" y="342.6">2</text>
<text x="433.9" y="325.4">3</text>
<text x="433.9" y="308.2">4</text>
<text x="433.9" y="290.9">5</text>
<text x="433.9" y="273.7">6</text>
<text x="272.1" y="388.4" text-anchor="middle">0</text>
<text x="298.0" y="388.4" text-anchor="middle">30</text>
<text x="324.0" y="388.4" text-anchor="middle">60</text>
<text x="349.9" y="388.4" text-anchor="middle">90</text>
<text x="375.9" y="388.4" text-anchor="middle">120</text>
<text x="401.8" y="388.4" text-anchor="middle">150</text>
<text x="427.8" y="388.4" text-anchor="middle">180</text>
</g>
<path d="M272.10 270.80H283.90V270.80H284.50V273.60H290.60V273.90H291.50V279.60H292.70V282.10H293.35V285.30H294.00V288.50H294.87V289.33H295.73V290.17H296.60V291.00H297.55V292.30H298.50V293.60H299.33V295.07H300.17V296.53H301.00V298.00H301.65V300.55H302.30V303.10H303.25V305.95H304.20V308.80H305.15V313.40H306.10V318.00H307.10V324.60H307.85V326.15H308.60V327.70H309.25V334.05H309.90V340.40H311.10V350.50H311.75V356.85H312.40V363.20H313.05V366.40H313.70V369.60H314.65V371.90H315.60V374.20" fill="none" stroke="#2a2a2a" stroke-width="0.75" stroke-linejoin="miter"/>
<polyline points="278.80,374.20 279.80,348.60 280.70,291.70 281.50,299.90 282.40,284.60 283.20,304.30 284.00,274.80 284.90,279.70 286.20,298.30 287.80,284.10 288.40,297.20 289.20,309.50 290.80,293.60 291.60,314.60 293.40,323.20 294.60,329.60 295.30,342.90 296.90,338.50 297.80,356.20 298.40,362.00 299.30,365.50 300.40,367.50 301.60,369.50 303.00,371.50 304.80,374.20" fill="none" stroke="#333" stroke-width="0.55"/>
<circle cx="278.80" cy="374.20" r="2.25" fill="#000"/>
<circle cx="279.80" cy="348.60" r="2.25" fill="#000"/>
<circle cx="280.70" cy="291.70" r="2.25" fill="#000"/>
<circle cx="281.50" cy="299.90" r="2.25" fill="#000"/>
<circle cx="282.40" cy="284.60" r="2.25" fill="#000"/>
<circle cx="283.20" cy="304.30" r="2.25" fill="#000"/>
<circle cx="284.00" cy="274.80" r="2.25" fill="#000"/>
<circle cx="284.90" cy="279.70" r="2.25" fill="#000"/>
<circle cx="286.20" cy="298.30" r="2.25" fill="#000"/>
<circle cx="287.80" cy="284.10" r="2.25" fill="#000"/>
<circle cx="288.40" cy="297.20" r="2.25" fill="#000"/>
<circle cx="289.20" cy="309.50" r="2.25" fill="#000"/>
<circle cx="290.80" cy="293.60" r="2.25" fill="#000"/>
<circle cx="291.60" cy="314.60" r="2.25" fill="#000"/>
<circle cx="293.40" cy="323.20" r="2.25" fill="#000"/>
<circle cx="294.60" cy="329.60" r="2.25" fill="#000"/>
<circle cx="295.30" cy="342.90" r="2.25" fill="#000"/>
<circle cx="296.90" cy="338.50" r="2.25" fill="#000"/>
<circle cx="297.80" cy="356.20" r="2.25" fill="#000"/>
<circle cx="298.40" cy="362.00" r="2.25" fill="#000"/>
<circle cx="299.30" cy="365.50" r="2.25" fill="#000"/>
<circle cx="300.40" cy="367.50" r="2.25" fill="#000"/>
<circle cx="301.60" cy="369.50" r="2.25" fill="#000"/>
<circle cx="303.00" cy="371.50" r="2.25" fill="#000"/>
<circle cx="304.80" cy="374.20" r="2.25" fill="#000"/>
<polyline points="278.80,374.20 279.80,348.60 280.70,291.70 281.50,299.90 282.40,284.60 283.20,304.30 284.00,275.25 284.90,289.63 286.20,306.32 287.80,293.68 288.40,305.41 289.20,316.42 290.80,303.18 291.60,324.15 293.40,333.97 294.60,340.42 295.30,350.68 296.90,347.90 297.80,361.14 298.40,365.44 299.30,368.07 300.40,369.59 301.60,371.11 303.00,372.54 304.80,374.20" fill="none" stroke="#555" stroke-width="0.55" stroke-dasharray="0.7 0.9"/>
<path d="M276.90 372.85h3.8l-1.9 3.4z" fill="#fff" stroke="#0a0a0a" stroke-width="0.8" stroke-linejoin="round"/>
<path d="M277.90 347.25h3.8l-1.9 3.4z" fill="#fff" stroke="#0a0a0a" stroke-width="0.8" stroke-linejoin="round"/>
<path d="M278.80 290.35h3.8l-1.9 3.4z" fill="#fff" stroke="#0a0a0a" stroke-width="0.8" stroke-linejoin="round"/>
<path d="M279.60 298.55h3.8l-1.9 3.4z" fill="#fff" stroke="#0a0a0a" stroke-width="0.8" stroke-linejoin="round"/>
<path d="M280.50 283.25h3.8l-1.9 3.4z" fill="#fff" stroke="#0a0a0a" stroke-width="0.8" stroke-linejoin="round"/>
<path d="M281.30 302.95h3.8l-1.9 3.4z" fill="#fff" stroke="#0a0a0a" stroke-width="0.8" stroke-linejoin="round"/>
<path d="M282.10 273.90h3.8l-1.9 3.4z" fill="#fff" stroke="#0a0a0a" stroke-width="0.8" stroke-linejoin="round"/>
<path d="M283.00 288.28h3.8l-1.9 3.4z" fill="#fff" stroke="#0a0a0a" stroke-width="0.8" stroke-linejoin="round"/>
<path d="M284.30 304.97h3.8l-1.9 3.4z" fill="#fff" stroke="#0a0a0a" stroke-width="0.8" stroke-linejoin="round"/>
<path d="M285.90 292.33h3.8l-1.9 3.4z" fill="#fff" stroke="#0a0a0a" stroke-width="0.8" stroke-linejoin="round"/>
<path d="M286.50 304.06h3.8l-1.9 3.4z" fill="#fff" stroke="#0a0a0a" stroke-width="0.8" stroke-linejoin="round"/>
<path d="M287.30 315.07h3.8l-1.9 3.4z" fill="#fff" stroke="#0a0a0a" stroke-width="0.8" stroke-linejoin="round"/>
<path d="M288.90 301.83h3.8l-1.9 3.4z" fill="#fff" stroke="#0a0a0a" stroke-width="0.8" stroke-linejoin="round"/>
<path d="M289.70 322.80h3.8l-1.9 3.4z" fill="#fff" stroke="#0a0a0a" stroke-width="0.8" stroke-linejoin="round"/>
<path d="M291.50 332.62h3.8l-1.9 3.4z" fill="#fff" stroke="#0a0a0a" stroke-width="0.8" stroke-linejoin="round"/>
<path d="M292.70 339.07h3.8l-1.9 3.4z" fill="#fff" stroke="#0a0a0a" stroke-width="0.8" stroke-linejoin="round"/>
<path d="M293.40 349.33h3.8l-1.9 3.4z" fill="#fff" stroke="#0a0a0a" stroke-width="0.8" stroke-linejoin="round"/>
<path d="M295.00 346.55h3.8l-1.9 3.4z" fill="#fff" stroke="#0a0a0a" stroke-width="0.8" stroke-linejoin="round"/>
<path d="M295.90 359.79h3.8l-1.9 3.4z" fill="#fff" stroke="#0a0a0a" stroke-width="0.8" stroke-linejoin="round"/>
<path d="M296.50 364.09h3.8l-1.9 3.4z" fill="#fff" stroke="#0a0a0a" stroke-width="0.8" stroke-linejoin="round"/>
<path d="M297.40 366.72h3.8l-1.9 3.4z" fill="#fff" stroke="#0a0a0a" stroke-width="0.8" stroke-linejoin="round"/>
<path d="M298.50 368.24h3.8l-1.9 3.4z" fill="#fff" stroke="#0a0a0a" stroke-width="0.8" stroke-linejoin="round"/>
<path d="M299.70 369.76h3.8l-1.9 3.4z" fill="#fff" stroke="#0a0a0a" stroke-width="0.8" stroke-linejoin="round"/>
<path d="M301.10 371.19h3.8l-1.9 3.4z" fill="#fff" stroke="#0a0a0a" stroke-width="0.8" stroke-linejoin="round"/>
<path d="M302.90 372.85h3.8l-1.9 3.4z" fill="#fff" stroke="#0a0a0a" stroke-width="0.8" stroke-linejoin="round"/>
<text class="tl" x="417.2" y="288.3" text-anchor="end">20 <tspan dy="-5.2" font-size="8.6">o</tspan><tspan dy="5.2">C</tspan></text>
</g>
<g>
<path d="M52.00 400.20V503.60H207.65V400.20" fill="none" stroke="#858585" stroke-width="0.85"/>
<path d="M50.90 503.60h2.0M51.90 499.46h0.9M51.90 495.33h0.9M51.90 491.19h0.9M51.90 487.06h0.9M50.90 482.92h2.0M51.90 478.78h0.9M51.90 474.65h0.9M51.90 470.51h0.9M51.90 466.38h0.9M50.90 462.24h2.0M51.90 458.10h0.9M51.90 453.97h0.9M51.90 449.83h0.9M51.90 445.70h0.9M50.90 441.56h2.0M51.90 437.42h0.9M51.90 433.29h0.9M51.90 429.15h0.9M51.90 425.02h0.9M50.90 420.88h2.0M51.90 416.74h0.9M51.90 412.61h0.9M51.90 408.47h0.9M51.90 404.34h0.9M50.90 400.20h2.0M207.25 503.60h1.7M207.75 500.15h-0.9M207.75 496.71h-0.9M207.75 493.26h-0.9M207.75 489.81h-0.9M207.25 486.37h1.7M207.75 482.92h-0.9M207.75 479.47h-0.9M207.75 476.03h-0.9M207.75 472.58h-0.9M207.25 469.13h1.7M207.75 465.69h-0.9M207.75 462.24h-0.9M207.75 458.79h-0.9M207.75 455.35h-0.9M207.25 451.90h1.7M207.75 448.45h-0.9M207.75 445.01h-0.9M207.75 441.56h-0.9M207.75 438.11h-0.9M207.25 434.67h1.7M207.75 431.22h-0.9M207.75 427.77h-0.9M207.75 424.33h-0.9M207.75 420.88h-0.9M207.25 417.43h1.7M207.75 413.99h-0.9M207.75 410.54h-0.9M207.75 407.09h-0.9M207.75 403.65h-0.9M207.25 400.20h1.7M52.00 504.20v-1.8M57.19 503.70v-0.9M62.38 503.70v-0.9M67.56 503.70v-0.9M72.75 503.70v-0.9M77.94 504.20v-1.8M83.13 503.70v-0.9M88.32 503.70v-0.9M93.51 503.70v-0.9M98.70 503.70v-0.9M103.88 504.20v-1.8M109.07 503.70v-0.9M114.26 503.70v-0.9M119.45 503.70v-0.9M124.64 503.70v-0.9M129.82 504.20v-1.8M135.01 503.70v-0.9M140.20 503.70v-0.9M145.39 503.70v-0.9M150.58 503.70v-0.9M155.77 504.20v-1.8M160.95 503.70v-0.9M166.14 503.70v-0.9M171.33 503.70v-0.9M176.52 503.70v-0.9M181.71 504.20v-1.8M186.90 503.70v-0.9M192.09 503.70v-0.9M197.27 503.70v-0.9M202.46 503.70v-0.9M207.65 504.20v-1.8" fill="none" stroke="#666" stroke-width="0.6"/>
<g class="tk">
<text x="45.8" y="506.5" text-anchor="end">0.0</text>
<text x="45.8" y="485.8" text-anchor="end">0.2</text>
<text x="45.8" y="465.1" text-anchor="end">0.4</text>
<text x="45.8" y="444.5" text-anchor="end">0.6</text>
<text x="45.8" y="423.8" text-anchor="end">0.8</text>
<text x="45.8" y="403.1" text-anchor="end">1.0</text>
<text x="213.8" y="506.5">0</text>
<text x="213.8" y="489.3">1</text>
<text x="213.8" y="472.0">2</text>
<text x="213.8" y="454.8">3</text>
<text x="213.8" y="437.6">4</text>
<text x="213.8" y="420.3">5</text>
<text x="213.8" y="403.1">6</text>
<text x="52.0" y="517.8" text-anchor="middle">0</text>
<text x="77.9" y="517.8" text-anchor="middle">30</text>
<text x="103.9" y="517.8" text-anchor="middle">60</text>
<text x="129.8" y="517.8" text-anchor="middle">90</text>
<text x="155.8" y="517.8" text-anchor="middle">120</text>
<text x="181.7" y="517.8" text-anchor="middle">150</text>
<text x="207.7" y="517.8" text-anchor="middle">180</text>
</g>
<path d="M52.00 400.20H58.90V400.20H60.00V404.80H60.90V410.00H62.00V414.50H63.10V418.70H63.90V424.00H64.70V429.60H65.50V434.50H66.40V439.40H67.40V441.10H68.18V441.23H68.95V441.35H69.72V441.48H70.50V441.60H71.10V447.00H71.80V451.40H72.60V458.00H73.40V464.50H74.20V470.00H75.00V475.25H75.80V480.50H76.70V486.40H77.60V492.30H78.30V496.45H79.00V500.60H79.90V503.60" fill="none" stroke="#2a2a2a" stroke-width="0.75" stroke-linejoin="miter"/>
<polyline points="56.40,503.60 57.30,480.50 58.00,448.00 58.80,423.60 59.90,420.40 60.70,428.00 61.50,426.40 62.30,441.60 63.10,431.30 64.20,424.20 65.00,440.00 65.80,452.50 66.50,449.80 67.40,458.00 68.40,465.10 69.50,475.10 70.50,482.00 71.60,489.90 73.00,491.50 74.60,494.60 76.40,498.80 78.50,503.60" fill="none" stroke="#333" stroke-width="0.55"/>
<circle cx="56.40" cy="503.60" r="2.25" fill="#000"/>
<circle cx="57.30" cy="480.50" r="2.25" fill="#000"/>
<circle cx="58.00" cy="448.00" r="2.25" fill="#000"/>
<circle cx="58.80" cy="423.60" r="2.25" fill="#000"/>
<circle cx="59.90" cy="420.40" r="2.25" fill="#000"/>
<circle cx="60.70" cy="428.00" r="2.25" fill="#000"/>
<circle cx="61.50" cy="426.40" r="2.25" fill="#000"/>
<circle cx="62.30" cy="441.60" r="2.25" fill="#000"/>
<circle cx="63.10" cy="431.30" r="2.25" fill="#000"/>
<circle cx="64.20" cy="424.20" r="2.25" fill="#000"/>
<circle cx="65.00" cy="440.00" r="2.25" fill="#000"/>
<circle cx="65.80" cy="452.50" r="2.25" fill="#000"/>
<circle cx="66.50" cy="449.80" r="2.25" fill="#000"/>
<circle cx="67.40" cy="458.00" r="2.25" fill="#000"/>
<circle cx="68.40" cy="465.10" r="2.25" fill="#000"/>
<circle cx="69.50" cy="475.10" r="2.25" fill="#000"/>
<circle cx="70.50" cy="482.00" r="2.25" fill="#000"/>
<circle cx="71.60" cy="489.90" r="2.25" fill="#000"/>
<circle cx="73.00" cy="491.50" r="2.25" fill="#000"/>
<circle cx="74.60" cy="494.60" r="2.25" fill="#000"/>
<circle cx="76.40" cy="498.80" r="2.25" fill="#000"/>
<circle cx="78.50" cy="503.60" r="2.25" fill="#000"/>
<polyline points="56.40,503.60 57.30,480.50 58.00,448.00 58.80,423.60 59.90,428.55 60.70,438.48 61.50,439.63 62.30,454.03 63.10,447.80 64.20,447.66 65.00,461.88 65.80,472.26 66.50,472.28 67.40,477.69 68.40,481.78 69.50,487.49 70.50,491.43 71.60,496.94 73.00,498.94 74.60,501.07 76.40,502.76 78.50,503.60" fill="none" stroke="#555" stroke-width="0.55" stroke-dasharray="0.7 0.9"/>
<path d="M54.50 502.25h3.8l-1.9 3.4z" fill="#fff" stroke="#0a0a0a" stroke-width="0.8" stroke-linejoin="round"/>
<path d="M55.40 479.15h3.8l-1.9 3.4z" fill="#fff" stroke="#0a0a0a" stroke-width="0.8" stroke-linejoin="round"/>
<path d="M56.10 446.65h3.8l-1.9 3.4z" fill="#fff" stroke="#0a0a0a" stroke-width="0.8" stroke-linejoin="round"/>
<path d="M56.90 422.25h3.8l-1.9 3.4z" fill="#fff" stroke="#0a0a0a" stroke-width="0.8" stroke-linejoin="round"/>
<path d="M58.00 427.20h3.8l-1.9 3.4z" fill="#fff" stroke="#0a0a0a" stroke-width="0.8" stroke-linejoin="round"/>
<path d="M58.80 437.13h3.8l-1.9 3.4z" fill="#fff" stroke="#0a0a0a" stroke-width="0.8" stroke-linejoin="round"/>
<path d="M59.60 438.28h3.8l-1.9 3.4z" fill="#fff" stroke="#0a0a0a" stroke-width="0.8" stroke-linejoin="round"/>
<path d="M60.40 452.68h3.8l-1.9 3.4z" fill="#fff" stroke="#0a0a0a" stroke-width="0.8" stroke-linejoin="round"/>
<path d="M61.20 446.45h3.8l-1.9 3.4z" fill="#fff" stroke="#0a0a0a" stroke-width="0.8" stroke-linejoin="round"/>
<path d="M62.30 446.31h3.8l-1.9 3.4z" fill="#fff" stroke="#0a0a0a" stroke-width="0.8" stroke-linejoin="round"/>
<path d="M63.10 460.53h3.8l-1.9 3.4z" fill="#fff" stroke="#0a0a0a" stroke-width="0.8" stroke-linejoin="round"/>
<path d="M63.90 470.91h3.8l-1.9 3.4z" fill="#fff" stroke="#0a0a0a" stroke-width="0.8" stroke-linejoin="round"/>
<path d="M64.60 470.93h3.8l-1.9 3.4z" fill="#fff" stroke="#0a0a0a" stroke-width="0.8" stroke-linejoin="round"/>
<path d="M65.50 476.34h3.8l-1.9 3.4z" fill="#fff" stroke="#0a0a0a" stroke-width="0.8" stroke-linejoin="round"/>
<path d="M66.50 480.43h3.8l-1.9 3.4z" fill="#fff" stroke="#0a0a0a" stroke-width="0.8" stroke-linejoin="round"/>
<path d="M67.60 486.14h3.8l-1.9 3.4z" fill="#fff" stroke="#0a0a0a" stroke-width="0.8" stroke-linejoin="round"/>
<path d="M68.60 490.08h3.8l-1.9 3.4z" fill="#fff" stroke="#0a0a0a" stroke-width="0.8" stroke-linejoin="round"/>
<path d="M69.70 495.59h3.8l-1.9 3.4z" fill="#fff" stroke="#0a0a0a" stroke-width="0.8" stroke-linejoin="round"/>
<path d="M71.10 497.59h3.8l-1.9 3.4z" fill="#fff" stroke="#0a0a0a" stroke-width="0.8" stroke-linejoin="round"/>
<path d="M72.70 499.72h3.8l-1.9 3.4z" fill="#fff" stroke="#0a0a0a" stroke-width="0.8" stroke-linejoin="round"/>
<path d="M74.50 501.41h3.8l-1.9 3.4z" fill="#fff" stroke="#0a0a0a" stroke-width="0.8" stroke-linejoin="round"/>
<path d="M76.60 502.25h3.8l-1.9 3.4z" fill="#fff" stroke="#0a0a0a" stroke-width="0.8" stroke-linejoin="round"/>
<text class="tl" x="194.6" y="416.3" text-anchor="end">25 <tspan dy="-5.2" font-size="8.6">o</tspan><tspan dy="5.2">C</tspan></text>
</g>
<g>
<path d="M272.10 400.20V503.60H427.75V400.20" fill="none" stroke="#858585" stroke-width="0.85"/>
<path d="M271.00 503.60h2.0M272.00 499.46h0.9M272.00 495.33h0.9M272.00 491.19h0.9M272.00 487.06h0.9M271.00 482.92h2.0M272.00 478.78h0.9M272.00 474.65h0.9M272.00 470.51h0.9M272.00 466.38h0.9M271.00 462.24h2.0M272.00 458.10h0.9M272.00 453.97h0.9M272.00 449.83h0.9M272.00 445.70h0.9M271.00 441.56h2.0M272.00 437.42h0.9M272.00 433.29h0.9M272.00 429.15h0.9M272.00 425.02h0.9M271.00 420.88h2.0M272.00 416.74h0.9M272.00 412.61h0.9M272.00 408.47h0.9M272.00 404.34h0.9M271.00 400.20h2.0M427.35 503.60h1.7M427.85 500.15h-0.9M427.85 496.71h-0.9M427.85 493.26h-0.9M427.85 489.81h-0.9M427.35 486.37h1.7M427.85 482.92h-0.9M427.85 479.47h-0.9M427.85 476.03h-0.9M427.85 472.58h-0.9M427.35 469.13h1.7M427.85 465.69h-0.9M427.85 462.24h-0.9M427.85 458.79h-0.9M427.85 455.35h-0.9M427.35 451.90h1.7M427.85 448.45h-0.9M427.85 445.01h-0.9M427.85 441.56h-0.9M427.85 438.11h-0.9M427.35 434.67h1.7M427.85 431.22h-0.9M427.85 427.77h-0.9M427.85 424.33h-0.9M427.85 420.88h-0.9M427.35 417.43h1.7M427.85 413.99h-0.9M427.85 410.54h-0.9M427.85 407.09h-0.9M427.85 403.65h-0.9M427.35 400.20h1.7M272.10 504.20v-1.8M277.29 503.70v-0.9M282.48 503.70v-0.9M287.67 503.70v-0.9M292.85 503.70v-0.9M298.04 504.20v-1.8M303.23 503.70v-0.9M308.42 503.70v-0.9M313.61 503.70v-0.9M318.80 503.70v-0.9M323.98 504.20v-1.8M329.17 503.70v-0.9M334.36 503.70v-0.9M339.55 503.70v-0.9M344.74 503.70v-0.9M349.93 504.20v-1.8M355.11 503.70v-0.9M360.30 503.70v-0.9M365.49 503.70v-0.9M370.68 503.70v-0.9M375.87 504.20v-1.8M381.06 503.70v-0.9M386.24 503.70v-0.9M391.43 503.70v-0.9M396.62 503.70v-0.9M401.81 504.20v-1.8M407.00 503.70v-0.9M412.19 503.70v-0.9M417.37 503.70v-0.9M422.56 503.70v-0.9M427.75 504.20v-1.8" fill="none" stroke="#666" stroke-width="0.6"/>
<g class="tk">
<text x="265.9" y="506.5" text-anchor="end">0.0</text>
<text x="265.9" y="485.8" text-anchor="end">0.2</text>
<text x="265.9" y="465.1" text-anchor="end">0.4</text>
<text x="265.9" y="444.5" text-anchor="end">0.6</text>
<text x="265.9" y="423.8" text-anchor="end">0.8</text>
<text x="265.9" y="403.1" text-anchor="end">1.0</text>
<text x="433.9" y="506.5">0</text>
<text x="433.9" y="489.3">1</text>
<text x="433.9" y="472.0">2</text>
<text x="433.9" y="454.8">3</text>
<text x="433.9" y="437.6">4</text>
<text x="433.9" y="420.3">5</text>
<text x="433.9" y="403.1">6</text>
<text x="272.1" y="517.8" text-anchor="middle">0</text>
<text x="298.0" y="517.8" text-anchor="middle">30</text>
<text x="324.0" y="517.8" text-anchor="middle">60</text>
<text x="349.9" y="517.8" text-anchor="middle">90</text>
<text x="375.9" y="517.8" text-anchor="middle">120</text>
<text x="401.8" y="517.8" text-anchor="middle">150</text>
<text x="427.8" y="517.8" text-anchor="middle">180</text>
</g>
<path d="M272.10 400.20H279.50V400.20H280.50V405.90H281.60V412.40H282.20V433.20H283.15V435.60H284.10V438.00H284.87V439.73H285.63V441.47H286.40V443.20H287.40V449.00H288.30V455.00H288.95V460.55H289.60V466.10H290.25V471.70H290.90V477.30H291.60V482.50H292.30V487.70H292.95V489.75H293.60V491.80H294.25V493.70H294.90V495.60H295.85V498.20H296.80V500.80H297.70V503.60" fill="none" stroke="#2a2a2a" stroke-width="0.75" stroke-linejoin="miter"/>
<polyline points="277.20,503.60 278.10,485.80 278.60,457.90 279.80,446.90 280.70,460.00 281.60,471.40 282.40,468.00 283.30,478.00 284.40,483.80 285.20,481.80 286.40,491.00 287.30,494.00 288.30,497.60 289.40,503.60" fill="none" stroke="#333" stroke-width="0.55"/>
<circle cx="277.20" cy="503.60" r="2.25" fill="#000"/>
<circle cx="278.10" cy="485.80" r="2.25" fill="#000"/>
<circle cx="278.60" cy="457.90" r="2.25" fill="#000"/>
<circle cx="279.80" cy="446.90" r="2.25" fill="#000"/>
<circle cx="280.70" cy="460.00" r="2.25" fill="#000"/>
<circle cx="281.60" cy="471.40" r="2.25" fill="#000"/>
<circle cx="282.40" cy="468.00" r="2.25" fill="#000"/>
<circle cx="283.30" cy="478.00" r="2.25" fill="#000"/>
<circle cx="284.40" cy="483.80" r="2.25" fill="#000"/>
<circle cx="285.20" cy="481.80" r="2.25" fill="#000"/>
<circle cx="286.40" cy="491.00" r="2.25" fill="#000"/>
<circle cx="287.30" cy="494.00" r="2.25" fill="#000"/>
<circle cx="288.30" cy="497.60" r="2.25" fill="#000"/>
<circle cx="289.40" cy="503.60" r="2.25" fill="#000"/>
<polyline points="277.20,503.60 278.10,485.80 278.60,457.90 279.80,447.84 280.70,465.34 281.60,476.90 282.40,480.98 283.30,487.86 284.40,491.91 285.20,491.09 286.40,496.68 287.30,498.78 288.30,500.95 289.40,503.60" fill="none" stroke="#555" stroke-width="0.55" stroke-dasharray="0.7 0.9"/>
<path d="M275.30 502.25h3.8l-1.9 3.4z" fill="#fff" stroke="#0a0a0a" stroke-width="0.8" stroke-linejoin="round"/>
<path d="M276.20 484.45h3.8l-1.9 3.4z" fill="#fff" stroke="#0a0a0a" stroke-width="0.8" stroke-linejoin="round"/>
<path d="M276.70 456.55h3.8l-1.9 3.4z" fill="#fff" stroke="#0a0a0a" stroke-width="0.8" stroke-linejoin="round"/>
<path d="M277.90 446.49h3.8l-1.9 3.4z" fill="#fff" stroke="#0a0a0a" stroke-width="0.8" stroke-linejoin="round"/>
<path d="M278.80 463.99h3.8l-1.9 3.4z" fill="#fff" stroke="#0a0a0a" stroke-width="0.8" stroke-linejoin="round"/>
<path d="M279.70 475.55h3.8l-1.9 3.4z" fill="#fff" stroke="#0a0a0a" stroke-width="0.8" stroke-linejoin="round"/>
<path d="M280.50 479.63h3.8l-1.9 3.4z" fill="#fff" stroke="#0a0a0a" stroke-width="0.8" stroke-linejoin="round"/>
<path d="M281.40 486.51h3.8l-1.9 3.4z" fill="#fff" stroke="#0a0a0a" stroke-width="0.8" stroke-linejoin="round"/>
<path d="M282.50 490.56h3.8l-1.9 3.4z" fill="#fff" stroke="#0a0a0a" stroke-width="0.8" stroke-linejoin="round"/>
<path d="M283.30 489.74h3.8l-1.9 3.4z" fill="#fff" stroke="#0a0a0a" stroke-width="0.8" stroke-linejoin="round"/>
<path d="M284.50 495.33h3.8l-1.9 3.4z" fill="#fff" stroke="#0a0a0a" stroke-width="0.8" stroke-linejoin="round"/>
<path d="M285.40 497.43h3.8l-1.9 3.4z" fill="#fff" stroke="#0a0a0a" stroke-width="0.8" stroke-linejoin="round"/>
<path d="M286.40 499.60h3.8l-1.9 3.4z" fill="#fff" stroke="#0a0a0a" stroke-width="0.8" stroke-linejoin="round"/>
<path d="M287.50 502.25h3.8l-1.9 3.4z" fill="#fff" stroke="#0a0a0a" stroke-width="0.8" stroke-linejoin="round"/>
<text class="tl" x="417.2" y="416.6" text-anchor="end">27.5 <tspan dy="-5.2" font-size="8.6">o</tspan><tspan dy="5.2">C</tspan></text>
</g>
<g>
<path d="M356.3 458.6H381.6" stroke="#222" stroke-width="0.8"/>
<path d="M356.3 474.55H381.6" stroke="#333" stroke-width="0.6"/>
<circle cx="368.9" cy="474.6" r="2.2" fill="#000"/>
<path d="M356.3 490.6H381.6" stroke="#999" stroke-width="0.6" stroke-dasharray="0.7 0.9"/>
<path d="M367.0 489.4h3.8l-1.9 3.2z" fill="#fff" stroke="#333" stroke-width="0.65"/>
<text class="lg" x="387.4" y="460.6">l<tspan dy="2.4" font-size="7.6">x</tspan></text>
<text class="lg" x="387.4" y="476.4">m<tspan dy="2.4" font-size="7.6">x</tspan></text>
<text class="lg" x="387.4" y="492.4">l<tspan dy="2.4" font-size="7.6">x</tspan><tspan dy="-2.4">m</tspan><tspan dy="2.4" font-size="7.6">x</tspan></text>
</g>
<text class="ax" transform="translate(129.7 541.8) scale(1.04 1)" style="font-size:13.9px" text-anchor="middle">Age (days)</text>
<text class="ax" transform="translate(355 541.2) scale(1.04 1)" style="font-size:13.9px" text-anchor="middle">Age (days)</text>
<text class="ax" transform="translate(18.9 258.9) rotate(-90)" style="font-size:14.6px" text-anchor="middle">Survival rate (<tspan font-style="italic">lx</tspan>)</text>
<text class="ax" transform="translate(462.5 259.9) rotate(-90)" style="font-size:14.45px" text-anchor="middle">Fecundity (<tspan font-style="italic">mx, lxmx</tspan>)</text>
</svg>
</body></html>
